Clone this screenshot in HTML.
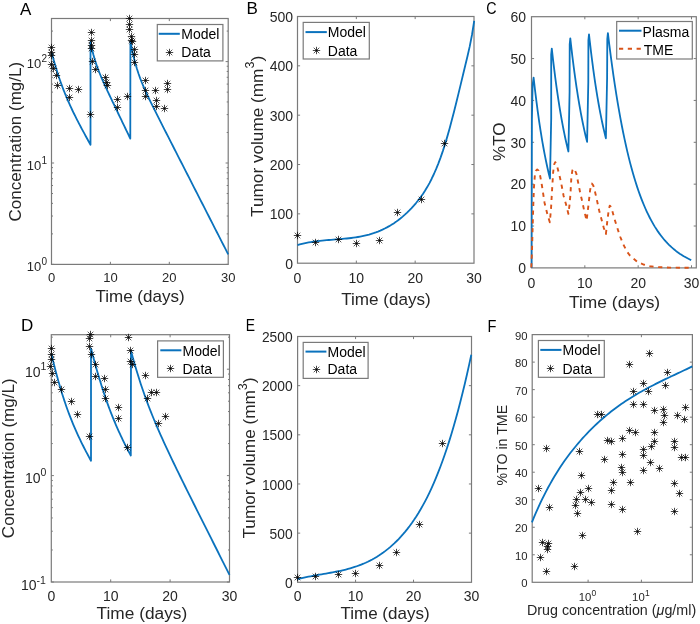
<!DOCTYPE html><html><head><meta charset="utf-8"><style>html,body{margin:0;padding:0;background:#fff;}svg{display:block;will-change:transform;}</style></head><body>
<svg width="700" height="624" viewBox="0 0 700 624" font-family='"Liberation Sans", sans-serif'>
<rect width="700" height="624" fill="#fff"/>
<rect x="51.5" y="18.5" width="176.7" height="245.9" fill="none" stroke="#7a7a7a" stroke-width="1.2"/>
<path d="M110.4 264.4v-2.6M110.4 18.5v2.6" stroke="#7a7a7a" stroke-width="1"/>
<path d="M169.3 264.4v-2.6M169.3 18.5v2.6" stroke="#7a7a7a" stroke-width="1"/>
<path d="M51.5 264.4h2.6M228.2 264.4h-2.6" stroke="#7a7a7a" stroke-width="1"/>
<path d="M51.5 233.88h1.5M228.2 233.88h-1.5" stroke="#7a7a7a" stroke-width="1"/>
<path d="M51.5 216.02h1.5M228.2 216.02h-1.5" stroke="#7a7a7a" stroke-width="1"/>
<path d="M51.5 203.35h1.5M228.2 203.35h-1.5" stroke="#7a7a7a" stroke-width="1"/>
<path d="M51.5 193.52h1.5M228.2 193.52h-1.5" stroke="#7a7a7a" stroke-width="1"/>
<path d="M51.5 185.5h1.5M228.2 185.5h-1.5" stroke="#7a7a7a" stroke-width="1"/>
<path d="M51.5 178.71h1.5M228.2 178.71h-1.5" stroke="#7a7a7a" stroke-width="1"/>
<path d="M51.5 172.83h1.5M228.2 172.83h-1.5" stroke="#7a7a7a" stroke-width="1"/>
<path d="M51.5 167.64h1.5M228.2 167.64h-1.5" stroke="#7a7a7a" stroke-width="1"/>
<path d="M51.5 163h2.6M228.2 163h-2.6" stroke="#7a7a7a" stroke-width="1"/>
<path d="M51.5 132.48h1.5M228.2 132.48h-1.5" stroke="#7a7a7a" stroke-width="1"/>
<path d="M51.5 114.62h1.5M228.2 114.62h-1.5" stroke="#7a7a7a" stroke-width="1"/>
<path d="M51.5 101.95h1.5M228.2 101.95h-1.5" stroke="#7a7a7a" stroke-width="1"/>
<path d="M51.5 92.12h1.5M228.2 92.12h-1.5" stroke="#7a7a7a" stroke-width="1"/>
<path d="M51.5 84.1h1.5M228.2 84.1h-1.5" stroke="#7a7a7a" stroke-width="1"/>
<path d="M51.5 77.31h1.5M228.2 77.31h-1.5" stroke="#7a7a7a" stroke-width="1"/>
<path d="M51.5 71.43h1.5M228.2 71.43h-1.5" stroke="#7a7a7a" stroke-width="1"/>
<path d="M51.5 66.24h1.5M228.2 66.24h-1.5" stroke="#7a7a7a" stroke-width="1"/>
<path d="M51.5 61.6h2.6M228.2 61.6h-2.6" stroke="#7a7a7a" stroke-width="1"/>
<path d="M51.5 31.08h1.5M228.2 31.08h-1.5" stroke="#7a7a7a" stroke-width="1"/>
<text x="51.5" y="282" font-size="13" text-anchor="middle" fill="#262626" >0</text>
<text x="110.4" y="282" font-size="13" text-anchor="middle" fill="#262626" >10</text>
<text x="169.3" y="282" font-size="13" text-anchor="middle" fill="#262626" >20</text>
<text x="228.2" y="282" font-size="13" text-anchor="middle" fill="#262626" >30</text>
<text x="41.2" y="271.2" font-size="13" text-anchor="end" fill="#262626" >10</text>
<text x="41.4" y="264.9" font-size="10" text-anchor="start" fill="#262626" >0</text>
<text x="41.2" y="169.8" font-size="13" text-anchor="end" fill="#262626" >10</text>
<text x="41.4" y="163.5" font-size="10" text-anchor="start" fill="#262626" >1</text>
<text x="41.2" y="68.4" font-size="13" text-anchor="end" fill="#262626" >10</text>
<text x="41.4" y="62.1" font-size="10" text-anchor="start" fill="#262626" >2</text>
<text x="140" y="301.7" font-size="17" text-anchor="middle" fill="#262626" >Time (days)</text>
<text x="20.9" y="141.7" font-size="17" text-anchor="middle" fill="#262626" transform="rotate(-90 20.9 141.7)">Concentration (mg/L)</text>
<text x="20" y="14.6" font-size="17" text-anchor="start" fill="#000" >A</text>
<path d="M51.8 53 L52.77 56.63 L53.73 60.14 L54.7 63.54 L55.67 66.83 L56.64 70 L57.6 73.08 L58.57 76.05 L59.54 78.92 L60.51 81.71 L61.47 84.41 L62.44 87.02 L63.41 89.56 L64.38 92.03 L65.34 94.44 L66.31 96.78 L67.28 99.06 L68.25 101.29 L69.22 103.47 L70.18 105.6 L71.15 107.7 L72.12 109.75 L73.09 111.77 L74.05 113.76 L75.02 115.72 L75.99 117.66 L76.95 119.56 L77.92 121.45 L78.89 123.32 L79.86 125.17 L80.82 127 L81.79 128.82 L82.76 130.62 L83.73 132.41 L84.69 134.19 L85.66 135.96 L86.63 137.72 L87.6 139.48 L88.56 141.22 L89.53 142.96 L90.5 144.7 L90.5 42 L91.5 46.78 L92.49 51.09 L93.48 54.98 L94.48 58.52 L95.47 61.77 L96.47 64.78 L97.47 67.6 L98.46 70.26 L99.45 72.79 L100.45 75.23 L101.45 77.58 L102.44 79.87 L103.44 82.12 L104.43 84.32 L105.43 86.5 L106.42 88.65 L107.42 90.79 L108.41 92.91 L109.41 95.01 L110.4 97.11 L111.4 99.2 L112.39 101.29 L113.39 103.37 L114.38 105.45 L115.38 107.53 L116.37 109.61 L117.37 111.68 L118.36 113.75 L119.36 115.82 L120.35 117.89 L121.35 119.96 L122.34 122.03 L123.34 124.1 L124.33 126.17 L125.33 128.24 L126.32 130.31 L127.32 132.38 L128.31 134.45 L129.31 136.51 L130.3 138.58 L130.4 41.5 L132.03 49.74 L133.66 56.94 L135.29 63.26 L136.92 68.83 L138.55 73.82 L140.18 78.35 L141.81 82.52 L143.44 86.43 L145.07 90.15 L146.7 93.72 L148.33 97.19 L149.96 100.58 L151.59 103.91 L153.22 107.21 L154.85 110.47 L156.48 113.72 L158.11 116.95 L159.74 120.17 L161.37 123.38 L163 126.59 L164.63 129.79 L166.26 132.99 L167.89 136.19 L169.52 139.39 L171.15 142.58 L172.78 145.78 L174.41 148.97 L176.04 152.17 L177.67 155.36 L179.3 158.55 L180.93 161.75 L182.56 164.94 L184.19 168.13 L185.82 171.33 L187.45 174.52 L189.08 177.71 L190.71 180.91 L192.34 184.1 L193.97 187.29 L195.6 190.48 L197.23 193.68 L198.86 196.87 L200.49 200.06 L202.12 203.26 L203.75 206.45 L205.38 209.64 L207.01 212.84 L208.64 216.03 L210.27 219.22 L211.9 222.41 L213.53 225.61 L215.16 228.8 L216.79 231.99 L218.42 235.19 L220.05 238.38 L221.68 241.57 L223.31 244.76 L224.94 247.96 L226.57 251.15 L228.2 254.34" fill="none" stroke="#0a72bd" stroke-width="1.8" stroke-linejoin="round" />
<path d="M47.8 47.5h7.4M51.5 43.8v7.4" stroke="#000" stroke-opacity="0.72" stroke-width="1.0"/>
<path d="M48.7 44.7l5.6 5.6M48.7 50.3l5.6 -5.6" stroke="#000" stroke-opacity="0.66" stroke-width="1.0"/>
<circle cx="51.5" cy="47.5" r="1.1" fill="#000" fill-opacity="0.55"/>
<path d="M47.8 52.5h7.4M51.5 48.8v7.4" stroke="#000" stroke-opacity="0.72" stroke-width="1.0"/>
<path d="M48.7 49.7l5.6 5.6M48.7 55.3l5.6 -5.6" stroke="#000" stroke-opacity="0.66" stroke-width="1.0"/>
<circle cx="51.5" cy="52.5" r="1.1" fill="#000" fill-opacity="0.55"/>
<path d="M47.8 55.5h7.4M51.5 51.8v7.4" stroke="#000" stroke-opacity="0.72" stroke-width="1.0"/>
<path d="M48.7 52.7l5.6 5.6M48.7 58.3l5.6 -5.6" stroke="#000" stroke-opacity="0.66" stroke-width="1.0"/>
<circle cx="51.5" cy="55.5" r="1.1" fill="#000" fill-opacity="0.55"/>
<path d="M47.8 64.5h7.4M51.5 60.8v7.4" stroke="#000" stroke-opacity="0.72" stroke-width="1.0"/>
<path d="M48.7 61.7l5.6 5.6M48.7 67.3l5.6 -5.6" stroke="#000" stroke-opacity="0.66" stroke-width="1.0"/>
<circle cx="51.5" cy="64.5" r="1.1" fill="#000" fill-opacity="0.55"/>
<path d="M49.8 68.5h7.4M53.5 64.8v7.4" stroke="#000" stroke-opacity="0.72" stroke-width="1.0"/>
<path d="M50.7 65.7l5.6 5.6M50.7 71.3l5.6 -5.6" stroke="#000" stroke-opacity="0.66" stroke-width="1.0"/>
<circle cx="53.5" cy="68.5" r="1.1" fill="#000" fill-opacity="0.55"/>
<path d="M52.8 75.5h7.4M56.5 71.8v7.4" stroke="#000" stroke-opacity="0.72" stroke-width="1.0"/>
<path d="M53.7 72.7l5.6 5.6M53.7 78.3l5.6 -5.6" stroke="#000" stroke-opacity="0.66" stroke-width="1.0"/>
<circle cx="56.5" cy="75.5" r="1.1" fill="#000" fill-opacity="0.55"/>
<path d="M53.8 85.5h7.4M57.5 81.8v7.4" stroke="#000" stroke-opacity="0.72" stroke-width="1.0"/>
<path d="M54.7 82.7l5.6 5.6M54.7 88.3l5.6 -5.6" stroke="#000" stroke-opacity="0.66" stroke-width="1.0"/>
<circle cx="57.5" cy="85.5" r="1.1" fill="#000" fill-opacity="0.55"/>
<path d="M65.8 88.5h7.4M69.5 84.8v7.4" stroke="#000" stroke-opacity="0.72" stroke-width="1.0"/>
<path d="M66.7 85.7l5.6 5.6M66.7 91.3l5.6 -5.6" stroke="#000" stroke-opacity="0.66" stroke-width="1.0"/>
<circle cx="69.5" cy="88.5" r="1.1" fill="#000" fill-opacity="0.55"/>
<path d="M74.8 89.5h7.4M78.5 85.8v7.4" stroke="#000" stroke-opacity="0.72" stroke-width="1.0"/>
<path d="M75.7 86.7l5.6 5.6M75.7 92.3l5.6 -5.6" stroke="#000" stroke-opacity="0.66" stroke-width="1.0"/>
<circle cx="78.5" cy="89.5" r="1.1" fill="#000" fill-opacity="0.55"/>
<path d="M65.8 97.5h7.4M69.5 93.8v7.4" stroke="#000" stroke-opacity="0.72" stroke-width="1.0"/>
<path d="M66.7 94.7l5.6 5.6M66.7 100.3l5.6 -5.6" stroke="#000" stroke-opacity="0.66" stroke-width="1.0"/>
<circle cx="69.5" cy="97.5" r="1.1" fill="#000" fill-opacity="0.55"/>
<path d="M87.8 32.5h7.4M91.5 28.8v7.4" stroke="#000" stroke-opacity="0.72" stroke-width="1.0"/>
<path d="M88.7 29.7l5.6 5.6M88.7 35.3l5.6 -5.6" stroke="#000" stroke-opacity="0.66" stroke-width="1.0"/>
<circle cx="91.5" cy="32.5" r="1.1" fill="#000" fill-opacity="0.55"/>
<path d="M87.8 40.5h7.4M91.5 36.8v7.4" stroke="#000" stroke-opacity="0.72" stroke-width="1.0"/>
<path d="M88.7 37.7l5.6 5.6M88.7 43.3l5.6 -5.6" stroke="#000" stroke-opacity="0.66" stroke-width="1.0"/>
<circle cx="91.5" cy="40.5" r="1.1" fill="#000" fill-opacity="0.55"/>
<path d="M87.8 45.5h7.4M91.5 41.8v7.4" stroke="#000" stroke-opacity="0.72" stroke-width="1.0"/>
<path d="M88.7 42.7l5.6 5.6M88.7 48.3l5.6 -5.6" stroke="#000" stroke-opacity="0.66" stroke-width="1.0"/>
<circle cx="91.5" cy="45.5" r="1.1" fill="#000" fill-opacity="0.55"/>
<path d="M87.8 48.5h7.4M91.5 44.8v7.4" stroke="#000" stroke-opacity="0.72" stroke-width="1.0"/>
<path d="M88.7 45.7l5.6 5.6M88.7 51.3l5.6 -5.6" stroke="#000" stroke-opacity="0.66" stroke-width="1.0"/>
<circle cx="91.5" cy="48.5" r="1.1" fill="#000" fill-opacity="0.55"/>
<path d="M88.8 61.5h7.4M92.5 57.8v7.4" stroke="#000" stroke-opacity="0.72" stroke-width="1.0"/>
<path d="M89.7 58.7l5.6 5.6M89.7 64.3l5.6 -5.6" stroke="#000" stroke-opacity="0.66" stroke-width="1.0"/>
<circle cx="92.5" cy="61.5" r="1.1" fill="#000" fill-opacity="0.55"/>
<path d="M91.8 69.5h7.4M95.5 65.8v7.4" stroke="#000" stroke-opacity="0.72" stroke-width="1.0"/>
<path d="M92.7 66.7l5.6 5.6M92.7 72.3l5.6 -5.6" stroke="#000" stroke-opacity="0.66" stroke-width="1.0"/>
<circle cx="95.5" cy="69.5" r="1.1" fill="#000" fill-opacity="0.55"/>
<path d="M101.8 77.5h7.4M105.5 73.8v7.4" stroke="#000" stroke-opacity="0.72" stroke-width="1.0"/>
<path d="M102.7 74.7l5.6 5.6M102.7 80.3l5.6 -5.6" stroke="#000" stroke-opacity="0.66" stroke-width="1.0"/>
<circle cx="105.5" cy="77.5" r="1.1" fill="#000" fill-opacity="0.55"/>
<path d="M102.8 82.5h7.4M106.5 78.8v7.4" stroke="#000" stroke-opacity="0.72" stroke-width="1.0"/>
<path d="M103.7 79.7l5.6 5.6M103.7 85.3l5.6 -5.6" stroke="#000" stroke-opacity="0.66" stroke-width="1.0"/>
<circle cx="106.5" cy="82.5" r="1.1" fill="#000" fill-opacity="0.55"/>
<path d="M103.8 85.5h7.4M107.5 81.8v7.4" stroke="#000" stroke-opacity="0.72" stroke-width="1.0"/>
<path d="M104.7 82.7l5.6 5.6M104.7 88.3l5.6 -5.6" stroke="#000" stroke-opacity="0.66" stroke-width="1.0"/>
<circle cx="107.5" cy="85.5" r="1.1" fill="#000" fill-opacity="0.55"/>
<path d="M86.8 114.5h7.4M90.5 110.8v7.4" stroke="#000" stroke-opacity="0.72" stroke-width="1.0"/>
<path d="M87.7 111.7l5.6 5.6M87.7 117.3l5.6 -5.6" stroke="#000" stroke-opacity="0.66" stroke-width="1.0"/>
<circle cx="90.5" cy="114.5" r="1.1" fill="#000" fill-opacity="0.55"/>
<path d="M113.8 99.5h7.4M117.5 95.8v7.4" stroke="#000" stroke-opacity="0.72" stroke-width="1.0"/>
<path d="M114.7 96.7l5.6 5.6M114.7 102.3l5.6 -5.6" stroke="#000" stroke-opacity="0.66" stroke-width="1.0"/>
<circle cx="117.5" cy="99.5" r="1.1" fill="#000" fill-opacity="0.55"/>
<path d="M113.8 107.5h7.4M117.5 103.8v7.4" stroke="#000" stroke-opacity="0.72" stroke-width="1.0"/>
<path d="M114.7 104.7l5.6 5.6M114.7 110.3l5.6 -5.6" stroke="#000" stroke-opacity="0.66" stroke-width="1.0"/>
<circle cx="117.5" cy="107.5" r="1.1" fill="#000" fill-opacity="0.55"/>
<path d="M123.8 96.5h7.4M127.5 92.8v7.4" stroke="#000" stroke-opacity="0.72" stroke-width="1.0"/>
<path d="M124.7 93.7l5.6 5.6M124.7 99.3l5.6 -5.6" stroke="#000" stroke-opacity="0.66" stroke-width="1.0"/>
<circle cx="127.5" cy="96.5" r="1.1" fill="#000" fill-opacity="0.55"/>
<path d="M125.8 18.5h7.4M129.5 14.8v7.4" stroke="#000" stroke-opacity="0.72" stroke-width="1.0"/>
<path d="M126.7 15.7l5.6 5.6M126.7 21.3l5.6 -5.6" stroke="#000" stroke-opacity="0.66" stroke-width="1.0"/>
<circle cx="129.5" cy="18.5" r="1.1" fill="#000" fill-opacity="0.55"/>
<path d="M125.8 24.5h7.4M129.5 20.8v7.4" stroke="#000" stroke-opacity="0.72" stroke-width="1.0"/>
<path d="M126.7 21.7l5.6 5.6M126.7 27.3l5.6 -5.6" stroke="#000" stroke-opacity="0.66" stroke-width="1.0"/>
<circle cx="129.5" cy="24.5" r="1.1" fill="#000" fill-opacity="0.55"/>
<path d="M125.8 29.5h7.4M129.5 25.8v7.4" stroke="#000" stroke-opacity="0.72" stroke-width="1.0"/>
<path d="M126.7 26.7l5.6 5.6M126.7 32.3l5.6 -5.6" stroke="#000" stroke-opacity="0.66" stroke-width="1.0"/>
<circle cx="129.5" cy="29.5" r="1.1" fill="#000" fill-opacity="0.55"/>
<path d="M127.8 36.5h7.4M131.5 32.8v7.4" stroke="#000" stroke-opacity="0.72" stroke-width="1.0"/>
<path d="M128.7 33.7l5.6 5.6M128.7 39.3l5.6 -5.6" stroke="#000" stroke-opacity="0.66" stroke-width="1.0"/>
<circle cx="131.5" cy="36.5" r="1.1" fill="#000" fill-opacity="0.55"/>
<path d="M127.8 40.5h7.4M131.5 36.8v7.4" stroke="#000" stroke-opacity="0.72" stroke-width="1.0"/>
<path d="M128.7 37.7l5.6 5.6M128.7 43.3l5.6 -5.6" stroke="#000" stroke-opacity="0.66" stroke-width="1.0"/>
<circle cx="131.5" cy="40.5" r="1.1" fill="#000" fill-opacity="0.55"/>
<path d="M128.8 41.5h7.4M132.5 37.8v7.4" stroke="#000" stroke-opacity="0.72" stroke-width="1.0"/>
<path d="M129.7 38.7l5.6 5.6M129.7 44.3l5.6 -5.6" stroke="#000" stroke-opacity="0.66" stroke-width="1.0"/>
<circle cx="132.5" cy="41.5" r="1.1" fill="#000" fill-opacity="0.55"/>
<path d="M130.8 49.5h7.4M134.5 45.8v7.4" stroke="#000" stroke-opacity="0.72" stroke-width="1.0"/>
<path d="M131.7 46.7l5.6 5.6M131.7 52.3l5.6 -5.6" stroke="#000" stroke-opacity="0.66" stroke-width="1.0"/>
<circle cx="134.5" cy="49.5" r="1.1" fill="#000" fill-opacity="0.55"/>
<path d="M130.8 54.5h7.4M134.5 50.8v7.4" stroke="#000" stroke-opacity="0.72" stroke-width="1.0"/>
<path d="M131.7 51.7l5.6 5.6M131.7 57.3l5.6 -5.6" stroke="#000" stroke-opacity="0.66" stroke-width="1.0"/>
<circle cx="134.5" cy="54.5" r="1.1" fill="#000" fill-opacity="0.55"/>
<path d="M130.8 62.5h7.4M134.5 58.8v7.4" stroke="#000" stroke-opacity="0.72" stroke-width="1.0"/>
<path d="M131.7 59.7l5.6 5.6M131.7 65.3l5.6 -5.6" stroke="#000" stroke-opacity="0.66" stroke-width="1.0"/>
<circle cx="134.5" cy="62.5" r="1.1" fill="#000" fill-opacity="0.55"/>
<path d="M141.8 80.5h7.4M145.5 76.8v7.4" stroke="#000" stroke-opacity="0.72" stroke-width="1.0"/>
<path d="M142.7 77.7l5.6 5.6M142.7 83.3l5.6 -5.6" stroke="#000" stroke-opacity="0.66" stroke-width="1.0"/>
<circle cx="145.5" cy="80.5" r="1.1" fill="#000" fill-opacity="0.55"/>
<path d="M141.8 90.5h7.4M145.5 86.8v7.4" stroke="#000" stroke-opacity="0.72" stroke-width="1.0"/>
<path d="M142.7 87.7l5.6 5.6M142.7 93.3l5.6 -5.6" stroke="#000" stroke-opacity="0.66" stroke-width="1.0"/>
<circle cx="145.5" cy="90.5" r="1.1" fill="#000" fill-opacity="0.55"/>
<path d="M141.8 96.5h7.4M145.5 92.8v7.4" stroke="#000" stroke-opacity="0.72" stroke-width="1.0"/>
<path d="M142.7 93.7l5.6 5.6M142.7 99.3l5.6 -5.6" stroke="#000" stroke-opacity="0.66" stroke-width="1.0"/>
<circle cx="145.5" cy="96.5" r="1.1" fill="#000" fill-opacity="0.55"/>
<path d="M151.8 90.5h7.4M155.5 86.8v7.4" stroke="#000" stroke-opacity="0.72" stroke-width="1.0"/>
<path d="M152.7 87.7l5.6 5.6M152.7 93.3l5.6 -5.6" stroke="#000" stroke-opacity="0.66" stroke-width="1.0"/>
<circle cx="155.5" cy="90.5" r="1.1" fill="#000" fill-opacity="0.55"/>
<path d="M163.8 83.5h7.4M167.5 79.8v7.4" stroke="#000" stroke-opacity="0.72" stroke-width="1.0"/>
<path d="M164.7 80.7l5.6 5.6M164.7 86.3l5.6 -5.6" stroke="#000" stroke-opacity="0.66" stroke-width="1.0"/>
<circle cx="167.5" cy="83.5" r="1.1" fill="#000" fill-opacity="0.55"/>
<path d="M163.8 89.5h7.4M167.5 85.8v7.4" stroke="#000" stroke-opacity="0.72" stroke-width="1.0"/>
<path d="M164.7 86.7l5.6 5.6M164.7 92.3l5.6 -5.6" stroke="#000" stroke-opacity="0.66" stroke-width="1.0"/>
<circle cx="167.5" cy="89.5" r="1.1" fill="#000" fill-opacity="0.55"/>
<path d="M152.8 100.5h7.4M156.5 96.8v7.4" stroke="#000" stroke-opacity="0.72" stroke-width="1.0"/>
<path d="M153.7 97.7l5.6 5.6M153.7 103.3l5.6 -5.6" stroke="#000" stroke-opacity="0.66" stroke-width="1.0"/>
<circle cx="156.5" cy="100.5" r="1.1" fill="#000" fill-opacity="0.55"/>
<path d="M152.8 106.5h7.4M156.5 102.8v7.4" stroke="#000" stroke-opacity="0.72" stroke-width="1.0"/>
<path d="M153.7 103.7l5.6 5.6M153.7 109.3l5.6 -5.6" stroke="#000" stroke-opacity="0.66" stroke-width="1.0"/>
<circle cx="156.5" cy="106.5" r="1.1" fill="#000" fill-opacity="0.55"/>
<path d="M160.8 108.5h7.4M164.5 104.8v7.4" stroke="#000" stroke-opacity="0.72" stroke-width="1.0"/>
<path d="M161.7 105.7l5.6 5.6M161.7 111.3l5.6 -5.6" stroke="#000" stroke-opacity="0.66" stroke-width="1.0"/>
<circle cx="164.5" cy="108.5" r="1.1" fill="#000" fill-opacity="0.55"/>
<rect x="157.3" y="24.5" width="65.6" height="36.4" fill="#fff" stroke="#7a7a7a" stroke-width="1.2"/>
<path d="M158.7 33.8H179.8" stroke="#0a72bd" stroke-width="2"/>
<text x="181.3" y="39.3" font-size="14" text-anchor="start" fill="#000" >Model</text>
<path d="M165.8 52.5h7.4M169.5 48.8v7.4" stroke="#000" stroke-opacity="0.72" stroke-width="1.0"/>
<path d="M166.7 49.7l5.6 5.6M166.7 55.3l5.6 -5.6" stroke="#000" stroke-opacity="0.66" stroke-width="1.0"/>
<circle cx="169.5" cy="52.5" r="1.1" fill="#000" fill-opacity="0.55"/>
<text x="181.3" y="56.9" font-size="14" text-anchor="start" fill="#000" >Data</text>
<rect x="297.5" y="16.5" width="176.5" height="246.7" fill="none" stroke="#7a7a7a" stroke-width="1.2"/>
<path d="M356.33 263.2v-2.6M356.33 16.5v2.6" stroke="#7a7a7a" stroke-width="1"/>
<path d="M415.17 263.2v-2.6M415.17 16.5v2.6" stroke="#7a7a7a" stroke-width="1"/>
<path d="M297.5 213.86h2.6M474 213.86h-2.6" stroke="#7a7a7a" stroke-width="1"/>
<path d="M297.5 164.52h2.6M474 164.52h-2.6" stroke="#7a7a7a" stroke-width="1"/>
<path d="M297.5 115.18h2.6M474 115.18h-2.6" stroke="#7a7a7a" stroke-width="1"/>
<path d="M297.5 65.84h2.6M474 65.84h-2.6" stroke="#7a7a7a" stroke-width="1"/>
<text x="297.5" y="282.5" font-size="14" text-anchor="middle" fill="#262626" >0</text>
<text x="356.33" y="282.5" font-size="14" text-anchor="middle" fill="#262626" >10</text>
<text x="415.17" y="282.5" font-size="14" text-anchor="middle" fill="#262626" >20</text>
<text x="474" y="282.5" font-size="14" text-anchor="middle" fill="#262626" >30</text>
<text x="293.1" y="268.7" font-size="14" text-anchor="end" fill="#262626" >0</text>
<text x="293.1" y="219.36" font-size="14" text-anchor="end" fill="#262626" >100</text>
<text x="293.1" y="170.02" font-size="14" text-anchor="end" fill="#262626" >200</text>
<text x="293.1" y="120.68" font-size="14" text-anchor="end" fill="#262626" >300</text>
<text x="293.1" y="71.34" font-size="14" text-anchor="end" fill="#262626" >400</text>
<text x="293.1" y="22" font-size="14" text-anchor="end" fill="#262626" >500</text>
<text x="386" y="304.9" font-size="17.1" text-anchor="middle" fill="#262626" >Time (days)</text>
<text transform="translate(262.5 216.9) rotate(-90)" font-size="17.2" fill="#262626">Tumor volume (mm<tspan font-size="12.5" dy="-8.5">3</tspan><tspan dy="8.5">)</tspan></text>
<text x="246.5" y="14.3" font-size="17" text-anchor="start" fill="#000" >B</text>
<path d="M297.5 245.1 L299.74 244.46 L301.97 243.88 L304.21 243.35 L306.45 242.87 L308.68 242.44 L310.92 242.05 L313.16 241.7 L315.39 241.38 L317.63 241.09 L319.87 240.84 L322.1 240.6 L324.34 240.38 L326.58 240.18 L328.81 240 L331.05 239.82 L333.29 239.64 L335.52 239.47 L337.76 239.3 L340 239.12 L342.23 238.93 L344.47 238.72 L346.71 238.5 L348.94 238.26 L351.18 238 L353.42 237.7 L355.65 237.38 L357.89 237.01 L360.13 236.61 L362.36 236.17 L364.6 235.68 L366.84 235.14 L369.07 234.55 L371.31 233.89 L373.55 233.18 L375.78 232.4 L378.02 231.55 L380.26 230.63 L382.49 229.64 L384.73 228.56 L386.97 227.4 L389.21 226.16 L391.44 224.82 L393.68 223.39 L395.92 221.86 L398.15 220.22 L400.39 218.49 L402.63 216.64 L404.86 214.68 L407.1 212.6 L409.34 210.4 L411.57 208.08 L413.81 205.63 L416.05 203.05 L418.28 200.3 L420.52 197.35 L422.76 194.19 L424.99 190.77 L427.23 187.08 L429.47 183.07 L431.7 178.72 L433.94 174.01 L436.18 168.89 L438.41 163.35 L440.65 157.36 L442.89 150.87 L445.12 143.88 L447.36 136.37 L449.6 128.41 L451.83 120.07 L454.07 111.4 L456.31 102.47 L458.54 93.35 L460.78 84.1 L463.02 74.78 L465.25 65.46 L467.49 56.18 L469.73 46.4 L471.96 35.01 L474.2 20.86" fill="none" stroke="#0a72bd" stroke-width="1.8" stroke-linejoin="round" />
<path d="M293.8 235.5h7.4M297.5 231.8v7.4" stroke="#000" stroke-opacity="0.72" stroke-width="1.0"/>
<path d="M294.7 232.7l5.6 5.6M294.7 238.3l5.6 -5.6" stroke="#000" stroke-opacity="0.66" stroke-width="1.0"/>
<circle cx="297.5" cy="235.5" r="1.1" fill="#000" fill-opacity="0.55"/>
<path d="M311.8 242.5h7.4M315.5 238.8v7.4" stroke="#000" stroke-opacity="0.72" stroke-width="1.0"/>
<path d="M312.7 239.7l5.6 5.6M312.7 245.3l5.6 -5.6" stroke="#000" stroke-opacity="0.66" stroke-width="1.0"/>
<circle cx="315.5" cy="242.5" r="1.1" fill="#000" fill-opacity="0.55"/>
<path d="M334.8 239.5h7.4M338.5 235.8v7.4" stroke="#000" stroke-opacity="0.72" stroke-width="1.0"/>
<path d="M335.7 236.7l5.6 5.6M335.7 242.3l5.6 -5.6" stroke="#000" stroke-opacity="0.66" stroke-width="1.0"/>
<circle cx="338.5" cy="239.5" r="1.1" fill="#000" fill-opacity="0.55"/>
<path d="M352.8 243.5h7.4M356.5 239.8v7.4" stroke="#000" stroke-opacity="0.72" stroke-width="1.0"/>
<path d="M353.7 240.7l5.6 5.6M353.7 246.3l5.6 -5.6" stroke="#000" stroke-opacity="0.66" stroke-width="1.0"/>
<circle cx="356.5" cy="243.5" r="1.1" fill="#000" fill-opacity="0.55"/>
<path d="M375.8 240.5h7.4M379.5 236.8v7.4" stroke="#000" stroke-opacity="0.72" stroke-width="1.0"/>
<path d="M376.7 237.7l5.6 5.6M376.7 243.3l5.6 -5.6" stroke="#000" stroke-opacity="0.66" stroke-width="1.0"/>
<circle cx="379.5" cy="240.5" r="1.1" fill="#000" fill-opacity="0.55"/>
<path d="M393.8 212.5h7.4M397.5 208.8v7.4" stroke="#000" stroke-opacity="0.72" stroke-width="1.0"/>
<path d="M394.7 209.7l5.6 5.6M394.7 215.3l5.6 -5.6" stroke="#000" stroke-opacity="0.66" stroke-width="1.0"/>
<circle cx="397.5" cy="212.5" r="1.1" fill="#000" fill-opacity="0.55"/>
<path d="M417.8 199.5h7.4M421.5 195.8v7.4" stroke="#000" stroke-opacity="0.72" stroke-width="1.0"/>
<path d="M418.7 196.7l5.6 5.6M418.7 202.3l5.6 -5.6" stroke="#000" stroke-opacity="0.66" stroke-width="1.0"/>
<circle cx="421.5" cy="199.5" r="1.1" fill="#000" fill-opacity="0.55"/>
<path d="M440.8 143.5h7.4M444.5 139.8v7.4" stroke="#000" stroke-opacity="0.72" stroke-width="1.0"/>
<path d="M441.7 140.7l5.6 5.6M441.7 146.3l5.6 -5.6" stroke="#000" stroke-opacity="0.66" stroke-width="1.0"/>
<circle cx="444.5" cy="143.5" r="1.1" fill="#000" fill-opacity="0.55"/>
<rect x="303.2" y="22.4" width="66.1" height="36.6" fill="#fff" stroke="#7a7a7a" stroke-width="1.2"/>
<path d="M305.5 32.1H326.8" stroke="#0a72bd" stroke-width="2"/>
<text x="327.8" y="37.3" font-size="14" text-anchor="start" fill="#000" >Model</text>
<path d="M312.8 50.5h7.4M316.5 46.8v7.4" stroke="#000" stroke-opacity="0.72" stroke-width="1.0"/>
<path d="M313.7 47.7l5.6 5.6M313.7 53.3l5.6 -5.6" stroke="#000" stroke-opacity="0.66" stroke-width="1.0"/>
<circle cx="316.5" cy="50.5" r="1.1" fill="#000" fill-opacity="0.55"/>
<text x="327.8" y="55.6" font-size="14" text-anchor="start" fill="#000" >Data</text>
<rect x="531.5" y="16.7" width="164.8" height="251.2" fill="none" stroke="#7a7a7a" stroke-width="1.2"/>
<path d="M584.83 267.9v-2.6M584.83 16.7v2.6" stroke="#7a7a7a" stroke-width="1"/>
<path d="M638.17 267.9v-2.6M638.17 16.7v2.6" stroke="#7a7a7a" stroke-width="1"/>
<path d="M691.5 267.9v-2.6M691.5 16.7v2.6" stroke="#7a7a7a" stroke-width="1"/>
<path d="M531.5 226.03h2.6M696.3 226.03h-2.6" stroke="#7a7a7a" stroke-width="1"/>
<path d="M531.5 184.17h2.6M696.3 184.17h-2.6" stroke="#7a7a7a" stroke-width="1"/>
<path d="M531.5 142.3h2.6M696.3 142.3h-2.6" stroke="#7a7a7a" stroke-width="1"/>
<path d="M531.5 100.43h2.6M696.3 100.43h-2.6" stroke="#7a7a7a" stroke-width="1"/>
<path d="M531.5 58.57h2.6M696.3 58.57h-2.6" stroke="#7a7a7a" stroke-width="1"/>
<text x="531.5" y="287.6" font-size="14" text-anchor="middle" fill="#262626" >0</text>
<text x="584.83" y="287.6" font-size="14" text-anchor="middle" fill="#262626" >10</text>
<text x="638.17" y="287.6" font-size="14" text-anchor="middle" fill="#262626" >20</text>
<text x="691.5" y="287.6" font-size="14" text-anchor="middle" fill="#262626" >30</text>
<text x="526" y="273.1" font-size="14" text-anchor="end" fill="#262626" >0</text>
<text x="526" y="231.23" font-size="14" text-anchor="end" fill="#262626" >10</text>
<text x="526" y="189.37" font-size="14" text-anchor="end" fill="#262626" >20</text>
<text x="526" y="147.5" font-size="14" text-anchor="end" fill="#262626" >30</text>
<text x="526" y="105.63" font-size="14" text-anchor="end" fill="#262626" >40</text>
<text x="526" y="63.77" font-size="14" text-anchor="end" fill="#262626" >50</text>
<text x="526" y="21.9" font-size="14" text-anchor="end" fill="#262626" >60</text>
<text x="614.6" y="308.4" font-size="17.4" text-anchor="middle" fill="#262626" >Time (days)</text>
<text x="504.7" y="141.75" font-size="17" text-anchor="middle" fill="#262626" transform="rotate(-90 504.7 141.75)">%TO</text>
<text transform="translate(486.2 13.6) scale(0.84 1)" font-size="17" fill="#000">C</text>
<path d="M531.6 267.9 L531.9 120 L532.6 85 L533.6 77.6 L534.28 83.66 L534.97 89.52 L535.65 95.18 L536.33 100.66 L537.02 105.94 L537.7 111.06 L538.38 115.99 L539.07 120.77 L539.75 125.38 L540.43 129.84 L541.12 134.15 L541.8 138.31 L542.48 142.33 L543.17 146.22 L543.85 149.98 L544.53 153.61 L545.22 157.12 L545.9 160.51 L546.58 163.79 L547.27 166.96 L547.95 170.02 L548.63 172.98 L549.32 175.84 L550 178.6 L551.2 118.6 L551.2 54.6 L551.8 48.6 L552.49 54.8 L553.18 60.79 L553.88 66.58 L554.57 72.17 L555.26 77.57 L555.95 82.79 L556.64 87.83 L557.33 92.7 L558.02 97.4 L558.72 101.95 L559.41 106.34 L560.1 110.58 L560.79 114.67 L561.48 118.63 L562.17 122.45 L562.87 126.14 L563.56 129.71 L564.25 133.15 L564.94 136.48 L565.63 139.7 L566.32 142.8 L567.02 145.8 L567.71 148.7 L568.4 151.5 L569.6 91.5 L569.7 44.4 L570.3 38.4 L571 44.66 L571.7 50.71 L572.4 56.55 L573.1 62.19 L573.8 67.64 L574.5 72.9 L575.2 77.98 L575.9 82.88 L576.6 87.61 L577.3 92.18 L578 96.6 L578.7 100.86 L579.4 104.98 L580.1 108.95 L580.8 112.79 L581.5 116.49 L582.2 120.07 L582.9 123.53 L583.6 126.86 L584.3 130.08 L585 133.2 L585.7 136.2 L586.4 139.1 L587.1 141.9 L588.3 81.9 L588.4 40.3 L589 34.3 L589.7 40.61 L590.41 46.7 L591.11 52.57 L591.82 58.25 L592.52 63.73 L593.23 69.02 L593.93 74.12 L594.63 79.05 L595.34 83.81 L596.04 88.41 L596.75 92.84 L597.45 97.12 L598.15 101.26 L598.86 105.25 L599.56 109.1 L600.27 112.82 L600.97 116.41 L601.67 119.88 L602.38 123.23 L603.08 126.46 L603.79 129.58 L604.49 132.59 L605.2 135.49 L605.9 138.3 L607.1 78.3 L607.3 39.2 L607.9 33.2 L609.29 44.58 L610.68 55.42 L612.06 65.74 L613.45 75.58 L614.84 84.94 L616.23 93.87 L617.62 102.37 L619.01 110.47 L620.39 118.18 L621.78 125.53 L623.17 132.53 L624.56 139.19 L625.95 145.55 L627.34 151.6 L628.73 157.36 L630.11 162.85 L631.5 168.08 L632.89 173.06 L634.28 177.8 L635.67 182.32 L637.05 186.63 L638.44 190.73 L639.83 194.64 L641.22 198.36 L642.61 201.9 L644 205.28 L645.38 208.5 L646.77 211.56 L648.16 214.48 L649.55 217.26 L650.94 219.91 L652.33 222.43 L653.72 224.83 L655.1 227.12 L656.49 229.3 L657.88 231.38 L659.27 233.36 L660.66 235.24 L662.05 237.04 L663.43 238.75 L664.82 240.38 L666.21 241.93 L667.6 243.41 L668.99 244.82 L670.38 246.16 L671.76 247.44 L673.15 248.65 L674.54 249.81 L675.93 250.92 L677.32 251.97 L678.71 252.97 L680.09 253.93 L681.48 254.83 L682.87 255.7 L684.26 256.53 L685.65 257.31 L687.04 258.06 L688.42 258.77 L689.81 259.45 L691.2 260.1" fill="none" stroke="#0a72bd" stroke-width="1.8" stroke-linejoin="round" />
<path d="M531.3 267.5 L532 250 L532.6 228.8 L533.3 205 L533.9 188.2 L534.8 176 L535.8 170.8 L537.2 169.4 L538.6 170.6 L540 175 L542 186 L544.6 203 L547.2 213.5 L549.8 222.3 L551 209 L552 191 L553.2 171.8 L554.2 164.3 L555.2 162.2 L556.3 163.6 L557.6 168.2 L560 177.8 L561.8 186.3 L563.6 195.9 L566 204.3 L568.4 213.9 L569.6 204.3 L570.5 193.5 L571.4 176.6 L572.4 170.3 L573.6 168.5 L574.8 169.8 L576.5 174.2 L578.4 183.8 L580.1 192.3 L582.3 201.9 L584.1 210.3 L586.6 220.5 L588.6 203.8 L590 190.9 L591 185.2 L591.9 183.6 L593.2 185.3 L594.8 190.9 L596.8 199.5 L599.1 210.3 L601.6 219.7 L603.7 227.6 L605.9 234.1 L607.3 221.1 L608.8 209.6 L609.8 205.6 L610.8 206.6 L611.7 208.9 L614.5 219 L617.4 228.3 L620.3 237 L623.2 244.2 L626.8 251.4 L629.5 255 L632.6 257.9 L637 261.5 L643.3 264.5 L650 266.2 L656.3 267 L670 267.6 L691 267.8" fill="none" stroke="#d95319" stroke-width="1.9" stroke-linejoin="round" stroke-dasharray="4.2 4.6"/>
<rect x="616.7" y="21.5" width="75.6" height="37.5" fill="#fff" stroke="#7a7a7a" stroke-width="1.2"/>
<path d="M619 30.7H641.5" stroke="#0a72bd" stroke-width="2"/>
<text x="642.6" y="36.5" font-size="14" text-anchor="start" fill="#000" >Plasma</text>
<path d="M619 48.7H641.5" stroke="#d95319" stroke-width="2" stroke-dasharray="4.2 4.6"/>
<text x="643.7" y="54.9" font-size="14" text-anchor="start" fill="#000" >TME</text>
<rect x="51.3" y="334.7" width="178.2" height="247.3" fill="none" stroke="#7a7a7a" stroke-width="1.2"/>
<path d="M110.7 582v-2.6M110.7 334.7v2.6" stroke="#7a7a7a" stroke-width="1"/>
<path d="M170.1 582v-2.6M170.1 334.7v2.6" stroke="#7a7a7a" stroke-width="1"/>
<path d="M51.3 582h2.6M229.5 582h-2.6" stroke="#7a7a7a" stroke-width="1"/>
<path d="M51.3 549.97h1.5M229.5 549.97h-1.5" stroke="#7a7a7a" stroke-width="1"/>
<path d="M51.3 531.23h1.5M229.5 531.23h-1.5" stroke="#7a7a7a" stroke-width="1"/>
<path d="M51.3 517.94h1.5M229.5 517.94h-1.5" stroke="#7a7a7a" stroke-width="1"/>
<path d="M51.3 507.63h1.5M229.5 507.63h-1.5" stroke="#7a7a7a" stroke-width="1"/>
<path d="M51.3 499.2h1.5M229.5 499.2h-1.5" stroke="#7a7a7a" stroke-width="1"/>
<path d="M51.3 492.08h1.5M229.5 492.08h-1.5" stroke="#7a7a7a" stroke-width="1"/>
<path d="M51.3 485.91h1.5M229.5 485.91h-1.5" stroke="#7a7a7a" stroke-width="1"/>
<path d="M51.3 480.47h1.5M229.5 480.47h-1.5" stroke="#7a7a7a" stroke-width="1"/>
<path d="M51.3 475.6h2.6M229.5 475.6h-2.6" stroke="#7a7a7a" stroke-width="1"/>
<path d="M51.3 443.57h1.5M229.5 443.57h-1.5" stroke="#7a7a7a" stroke-width="1"/>
<path d="M51.3 424.83h1.5M229.5 424.83h-1.5" stroke="#7a7a7a" stroke-width="1"/>
<path d="M51.3 411.54h1.5M229.5 411.54h-1.5" stroke="#7a7a7a" stroke-width="1"/>
<path d="M51.3 401.23h1.5M229.5 401.23h-1.5" stroke="#7a7a7a" stroke-width="1"/>
<path d="M51.3 392.8h1.5M229.5 392.8h-1.5" stroke="#7a7a7a" stroke-width="1"/>
<path d="M51.3 385.68h1.5M229.5 385.68h-1.5" stroke="#7a7a7a" stroke-width="1"/>
<path d="M51.3 379.51h1.5M229.5 379.51h-1.5" stroke="#7a7a7a" stroke-width="1"/>
<path d="M51.3 374.07h1.5M229.5 374.07h-1.5" stroke="#7a7a7a" stroke-width="1"/>
<path d="M51.3 369.2h2.6M229.5 369.2h-2.6" stroke="#7a7a7a" stroke-width="1"/>
<path d="M51.3 337.17h1.5M229.5 337.17h-1.5" stroke="#7a7a7a" stroke-width="1"/>
<text x="51.3" y="601.1" font-size="14" text-anchor="middle" fill="#262626" >0</text>
<text x="110.7" y="601.1" font-size="14" text-anchor="middle" fill="#262626" >10</text>
<text x="170.1" y="601.1" font-size="14" text-anchor="middle" fill="#262626" >20</text>
<text x="229.5" y="601.1" font-size="14" text-anchor="middle" fill="#262626" >30</text>
<text x="40.6" y="376.7" font-size="14" text-anchor="end" fill="#262626" >10</text>
<text x="40.5" y="369.7" font-size="10.5" text-anchor="start" fill="#262626" >1</text>
<text x="40.6" y="483.1" font-size="14" text-anchor="end" fill="#262626" >10</text>
<text x="40.5" y="476.1" font-size="10.5" text-anchor="start" fill="#262626" >0</text>
<text x="36.6" y="590.4" font-size="14" text-anchor="end" fill="#262626" >10</text>
<text x="36.6" y="583.5" font-size="10.5" text-anchor="start" fill="#262626" >-1</text>
<text x="141.9" y="619.2" font-size="17.3" text-anchor="middle" fill="#262626" >Time (days)</text>
<text x="13.7" y="458.3" font-size="17" text-anchor="middle" fill="#262626" transform="rotate(-90 13.7 458.3)">Concentration (mg/L)</text>
<text x="21" y="331.2" font-size="17" text-anchor="start" fill="#000" >D</text>
<path d="M51.4 354 L52.39 358.11 L53.38 362.13 L54.37 366.07 L55.36 369.91 L56.35 373.65 L57.34 377.31 L58.33 380.87 L59.32 384.34 L60.31 387.72 L61.3 391.01 L62.29 394.21 L63.28 397.33 L64.27 400.36 L65.26 403.31 L66.25 406.18 L67.24 408.98 L68.23 411.7 L69.22 414.35 L70.21 416.93 L71.2 419.45 L72.19 421.9 L73.18 424.3 L74.17 426.65 L75.16 428.94 L76.15 431.18 L77.14 433.38 L78.13 435.54 L79.12 437.65 L80.11 439.73 L81.1 441.78 L82.09 443.79 L83.08 445.77 L84.07 447.72 L85.06 449.65 L86.05 451.55 L87.04 453.43 L88.03 455.29 L89.02 457.13 L90.01 458.95 L91 460.76 L91 348.4 L92 352.24 L92.99 356.01 L93.98 359.72 L94.98 363.37 L95.97 366.94 L96.97 370.45 L97.97 373.89 L98.96 377.27 L99.95 380.57 L100.95 383.81 L101.95 386.98 L102.94 390.08 L103.94 393.12 L104.93 396.09 L105.93 398.99 L106.92 401.83 L107.92 404.61 L108.91 407.33 L109.91 409.99 L110.9 412.59 L111.9 415.14 L112.89 417.63 L113.89 420.07 L114.88 422.46 L115.88 424.81 L116.87 427.1 L117.87 429.36 L118.86 431.57 L119.86 433.74 L120.85 435.88 L121.85 437.97 L122.84 440.04 L123.84 442.07 L124.83 444.07 L125.83 446.05 L126.82 447.99 L127.82 449.91 L128.81 451.81 L129.81 453.68 L130.8 455.54 L131 350.8 L132.64 356.87 L134.28 362.73 L135.93 368.38 L137.57 373.83 L139.21 379.09 L140.85 384.17 L142.49 389.08 L144.13 393.82 L145.78 398.42 L147.42 402.87 L149.06 407.2 L150.7 411.42 L152.34 415.52 L153.98 419.53 L155.62 423.46 L157.27 427.31 L158.91 431.08 L160.55 434.8 L162.19 438.46 L163.83 442.07 L165.47 445.64 L167.12 449.17 L168.76 452.67 L170.4 456.14 L172.04 459.58 L173.68 463 L175.32 466.4 L176.97 469.78 L178.61 473.14 L180.25 476.49 L181.89 479.83 L183.53 483.16 L185.18 486.48 L186.82 489.79 L188.46 493.1 L190.1 496.4 L191.74 499.69 L193.38 502.98 L195.03 506.26 L196.67 509.54 L198.31 512.82 L199.95 516.1 L201.59 519.37 L203.23 522.64 L204.88 525.91 L206.52 529.18 L208.16 532.44 L209.8 535.71 L211.44 538.97 L213.08 542.23 L214.72 545.49 L216.37 548.76 L218.01 552.02 L219.65 555.28 L221.29 558.54 L222.93 561.8 L224.57 565.05 L226.22 568.31 L227.86 571.57 L229.5 574.83" fill="none" stroke="#0a72bd" stroke-width="1.8" stroke-linejoin="round" />
<path d="M47.8 348.5h7.4M51.5 344.8v7.4" stroke="#000" stroke-opacity="0.72" stroke-width="1.0"/>
<path d="M48.7 345.7l5.6 5.6M48.7 351.3l5.6 -5.6" stroke="#000" stroke-opacity="0.66" stroke-width="1.0"/>
<circle cx="51.5" cy="348.5" r="1.1" fill="#000" fill-opacity="0.55"/>
<path d="M47.8 354.5h7.4M51.5 350.8v7.4" stroke="#000" stroke-opacity="0.72" stroke-width="1.0"/>
<path d="M48.7 351.7l5.6 5.6M48.7 357.3l5.6 -5.6" stroke="#000" stroke-opacity="0.66" stroke-width="1.0"/>
<circle cx="51.5" cy="354.5" r="1.1" fill="#000" fill-opacity="0.55"/>
<path d="M47.8 359.5h7.4M51.5 355.8v7.4" stroke="#000" stroke-opacity="0.72" stroke-width="1.0"/>
<path d="M48.7 356.7l5.6 5.6M48.7 362.3l5.6 -5.6" stroke="#000" stroke-opacity="0.66" stroke-width="1.0"/>
<circle cx="51.5" cy="359.5" r="1.1" fill="#000" fill-opacity="0.55"/>
<path d="M46.8 366.5h7.4M50.5 362.8v7.4" stroke="#000" stroke-opacity="0.72" stroke-width="1.0"/>
<path d="M47.7 363.7l5.6 5.6M47.7 369.3l5.6 -5.6" stroke="#000" stroke-opacity="0.66" stroke-width="1.0"/>
<circle cx="50.5" cy="366.5" r="1.1" fill="#000" fill-opacity="0.55"/>
<path d="M48.8 373.5h7.4M52.5 369.8v7.4" stroke="#000" stroke-opacity="0.72" stroke-width="1.0"/>
<path d="M49.7 370.7l5.6 5.6M49.7 376.3l5.6 -5.6" stroke="#000" stroke-opacity="0.66" stroke-width="1.0"/>
<circle cx="52.5" cy="373.5" r="1.1" fill="#000" fill-opacity="0.55"/>
<path d="M50.8 382.5h7.4M54.5 378.8v7.4" stroke="#000" stroke-opacity="0.72" stroke-width="1.0"/>
<path d="M51.7 379.7l5.6 5.6M51.7 385.3l5.6 -5.6" stroke="#000" stroke-opacity="0.66" stroke-width="1.0"/>
<circle cx="54.5" cy="382.5" r="1.1" fill="#000" fill-opacity="0.55"/>
<path d="M57.8 389.5h7.4M61.5 385.8v7.4" stroke="#000" stroke-opacity="0.72" stroke-width="1.0"/>
<path d="M58.7 386.7l5.6 5.6M58.7 392.3l5.6 -5.6" stroke="#000" stroke-opacity="0.66" stroke-width="1.0"/>
<circle cx="61.5" cy="389.5" r="1.1" fill="#000" fill-opacity="0.55"/>
<path d="M67.8 401.5h7.4M71.5 397.8v7.4" stroke="#000" stroke-opacity="0.72" stroke-width="1.0"/>
<path d="M68.7 398.7l5.6 5.6M68.7 404.3l5.6 -5.6" stroke="#000" stroke-opacity="0.66" stroke-width="1.0"/>
<circle cx="71.5" cy="401.5" r="1.1" fill="#000" fill-opacity="0.55"/>
<path d="M73.8 414.5h7.4M77.5 410.8v7.4" stroke="#000" stroke-opacity="0.72" stroke-width="1.0"/>
<path d="M74.7 411.7l5.6 5.6M74.7 417.3l5.6 -5.6" stroke="#000" stroke-opacity="0.66" stroke-width="1.0"/>
<circle cx="77.5" cy="414.5" r="1.1" fill="#000" fill-opacity="0.55"/>
<path d="M86.8 334.5h7.4M90.5 330.8v7.4" stroke="#000" stroke-opacity="0.72" stroke-width="1.0"/>
<path d="M87.7 331.7l5.6 5.6M87.7 337.3l5.6 -5.6" stroke="#000" stroke-opacity="0.66" stroke-width="1.0"/>
<circle cx="90.5" cy="334.5" r="1.1" fill="#000" fill-opacity="0.55"/>
<path d="M85.8 338.5h7.4M89.5 334.8v7.4" stroke="#000" stroke-opacity="0.72" stroke-width="1.0"/>
<path d="M86.7 335.7l5.6 5.6M86.7 341.3l5.6 -5.6" stroke="#000" stroke-opacity="0.66" stroke-width="1.0"/>
<circle cx="89.5" cy="338.5" r="1.1" fill="#000" fill-opacity="0.55"/>
<path d="M85.8 346.5h7.4M89.5 342.8v7.4" stroke="#000" stroke-opacity="0.72" stroke-width="1.0"/>
<path d="M86.7 343.7l5.6 5.6M86.7 349.3l5.6 -5.6" stroke="#000" stroke-opacity="0.66" stroke-width="1.0"/>
<circle cx="89.5" cy="346.5" r="1.1" fill="#000" fill-opacity="0.55"/>
<path d="M87.8 354.5h7.4M91.5 350.8v7.4" stroke="#000" stroke-opacity="0.72" stroke-width="1.0"/>
<path d="M88.7 351.7l5.6 5.6M88.7 357.3l5.6 -5.6" stroke="#000" stroke-opacity="0.66" stroke-width="1.0"/>
<circle cx="91.5" cy="354.5" r="1.1" fill="#000" fill-opacity="0.55"/>
<path d="M91.8 364.5h7.4M95.5 360.8v7.4" stroke="#000" stroke-opacity="0.72" stroke-width="1.0"/>
<path d="M92.7 361.7l5.6 5.6M92.7 367.3l5.6 -5.6" stroke="#000" stroke-opacity="0.66" stroke-width="1.0"/>
<circle cx="95.5" cy="364.5" r="1.1" fill="#000" fill-opacity="0.55"/>
<path d="M91.8 376.5h7.4M95.5 372.8v7.4" stroke="#000" stroke-opacity="0.72" stroke-width="1.0"/>
<path d="M92.7 373.7l5.6 5.6M92.7 379.3l5.6 -5.6" stroke="#000" stroke-opacity="0.66" stroke-width="1.0"/>
<circle cx="95.5" cy="376.5" r="1.1" fill="#000" fill-opacity="0.55"/>
<path d="M100.8 378.5h7.4M104.5 374.8v7.4" stroke="#000" stroke-opacity="0.72" stroke-width="1.0"/>
<path d="M101.7 375.7l5.6 5.6M101.7 381.3l5.6 -5.6" stroke="#000" stroke-opacity="0.66" stroke-width="1.0"/>
<circle cx="104.5" cy="378.5" r="1.1" fill="#000" fill-opacity="0.55"/>
<path d="M101.8 389.5h7.4M105.5 385.8v7.4" stroke="#000" stroke-opacity="0.72" stroke-width="1.0"/>
<path d="M102.7 386.7l5.6 5.6M102.7 392.3l5.6 -5.6" stroke="#000" stroke-opacity="0.66" stroke-width="1.0"/>
<circle cx="105.5" cy="389.5" r="1.1" fill="#000" fill-opacity="0.55"/>
<path d="M101.8 398.5h7.4M105.5 394.8v7.4" stroke="#000" stroke-opacity="0.72" stroke-width="1.0"/>
<path d="M102.7 395.7l5.6 5.6M102.7 401.3l5.6 -5.6" stroke="#000" stroke-opacity="0.66" stroke-width="1.0"/>
<circle cx="105.5" cy="398.5" r="1.1" fill="#000" fill-opacity="0.55"/>
<path d="M114.8 407.5h7.4M118.5 403.8v7.4" stroke="#000" stroke-opacity="0.72" stroke-width="1.0"/>
<path d="M115.7 404.7l5.6 5.6M115.7 410.3l5.6 -5.6" stroke="#000" stroke-opacity="0.66" stroke-width="1.0"/>
<circle cx="118.5" cy="407.5" r="1.1" fill="#000" fill-opacity="0.55"/>
<path d="M114.8 418.5h7.4M118.5 414.8v7.4" stroke="#000" stroke-opacity="0.72" stroke-width="1.0"/>
<path d="M115.7 415.7l5.6 5.6M115.7 421.3l5.6 -5.6" stroke="#000" stroke-opacity="0.66" stroke-width="1.0"/>
<circle cx="118.5" cy="418.5" r="1.1" fill="#000" fill-opacity="0.55"/>
<path d="M85.8 436.5h7.4M89.5 432.8v7.4" stroke="#000" stroke-opacity="0.72" stroke-width="1.0"/>
<path d="M86.7 433.7l5.6 5.6M86.7 439.3l5.6 -5.6" stroke="#000" stroke-opacity="0.66" stroke-width="1.0"/>
<circle cx="89.5" cy="436.5" r="1.1" fill="#000" fill-opacity="0.55"/>
<path d="M123.8 447.5h7.4M127.5 443.8v7.4" stroke="#000" stroke-opacity="0.72" stroke-width="1.0"/>
<path d="M124.7 444.7l5.6 5.6M124.7 450.3l5.6 -5.6" stroke="#000" stroke-opacity="0.66" stroke-width="1.0"/>
<circle cx="127.5" cy="447.5" r="1.1" fill="#000" fill-opacity="0.55"/>
<path d="M124.8 337.5h7.4M128.5 333.8v7.4" stroke="#000" stroke-opacity="0.72" stroke-width="1.0"/>
<path d="M125.7 334.7l5.6 5.6M125.7 340.3l5.6 -5.6" stroke="#000" stroke-opacity="0.66" stroke-width="1.0"/>
<circle cx="128.5" cy="337.5" r="1.1" fill="#000" fill-opacity="0.55"/>
<path d="M126.8 350.5h7.4M130.5 346.8v7.4" stroke="#000" stroke-opacity="0.72" stroke-width="1.0"/>
<path d="M127.7 347.7l5.6 5.6M127.7 353.3l5.6 -5.6" stroke="#000" stroke-opacity="0.66" stroke-width="1.0"/>
<circle cx="130.5" cy="350.5" r="1.1" fill="#000" fill-opacity="0.55"/>
<path d="M126.8 361.5h7.4M130.5 357.8v7.4" stroke="#000" stroke-opacity="0.72" stroke-width="1.0"/>
<path d="M127.7 358.7l5.6 5.6M127.7 364.3l5.6 -5.6" stroke="#000" stroke-opacity="0.66" stroke-width="1.0"/>
<circle cx="130.5" cy="361.5" r="1.1" fill="#000" fill-opacity="0.55"/>
<path d="M128.8 364.5h7.4M132.5 360.8v7.4" stroke="#000" stroke-opacity="0.72" stroke-width="1.0"/>
<path d="M129.7 361.7l5.6 5.6M129.7 367.3l5.6 -5.6" stroke="#000" stroke-opacity="0.66" stroke-width="1.0"/>
<circle cx="132.5" cy="364.5" r="1.1" fill="#000" fill-opacity="0.55"/>
<path d="M141.8 375.5h7.4M145.5 371.8v7.4" stroke="#000" stroke-opacity="0.72" stroke-width="1.0"/>
<path d="M142.7 372.7l5.6 5.6M142.7 378.3l5.6 -5.6" stroke="#000" stroke-opacity="0.66" stroke-width="1.0"/>
<circle cx="145.5" cy="375.5" r="1.1" fill="#000" fill-opacity="0.55"/>
<path d="M147.8 392.5h7.4M151.5 388.8v7.4" stroke="#000" stroke-opacity="0.72" stroke-width="1.0"/>
<path d="M148.7 389.7l5.6 5.6M148.7 395.3l5.6 -5.6" stroke="#000" stroke-opacity="0.66" stroke-width="1.0"/>
<circle cx="151.5" cy="392.5" r="1.1" fill="#000" fill-opacity="0.55"/>
<path d="M152.8 392.5h7.4M156.5 388.8v7.4" stroke="#000" stroke-opacity="0.72" stroke-width="1.0"/>
<path d="M153.7 389.7l5.6 5.6M153.7 395.3l5.6 -5.6" stroke="#000" stroke-opacity="0.66" stroke-width="1.0"/>
<circle cx="156.5" cy="392.5" r="1.1" fill="#000" fill-opacity="0.55"/>
<path d="M143.8 398.5h7.4M147.5 394.8v7.4" stroke="#000" stroke-opacity="0.72" stroke-width="1.0"/>
<path d="M144.7 395.7l5.6 5.6M144.7 401.3l5.6 -5.6" stroke="#000" stroke-opacity="0.66" stroke-width="1.0"/>
<circle cx="147.5" cy="398.5" r="1.1" fill="#000" fill-opacity="0.55"/>
<path d="M161.8 416.5h7.4M165.5 412.8v7.4" stroke="#000" stroke-opacity="0.72" stroke-width="1.0"/>
<path d="M162.7 413.7l5.6 5.6M162.7 419.3l5.6 -5.6" stroke="#000" stroke-opacity="0.66" stroke-width="1.0"/>
<circle cx="165.5" cy="416.5" r="1.1" fill="#000" fill-opacity="0.55"/>
<path d="M154.8 423.5h7.4M158.5 419.8v7.4" stroke="#000" stroke-opacity="0.72" stroke-width="1.0"/>
<path d="M155.7 420.7l5.6 5.6M155.7 426.3l5.6 -5.6" stroke="#000" stroke-opacity="0.66" stroke-width="1.0"/>
<circle cx="158.5" cy="423.5" r="1.1" fill="#000" fill-opacity="0.55"/>
<rect x="157.6" y="340.9" width="65.8" height="36.4" fill="#fff" stroke="#7a7a7a" stroke-width="1.2"/>
<path d="M160.3 350.3H181.4" stroke="#0a72bd" stroke-width="2"/>
<text x="182.5" y="355.8" font-size="14" text-anchor="start" fill="#000" >Model</text>
<path d="M166.8 368.5h7.4M170.5 364.8v7.4" stroke="#000" stroke-opacity="0.72" stroke-width="1.0"/>
<path d="M167.7 365.7l5.6 5.6M167.7 371.3l5.6 -5.6" stroke="#000" stroke-opacity="0.66" stroke-width="1.0"/>
<circle cx="170.5" cy="368.5" r="1.1" fill="#000" fill-opacity="0.55"/>
<text x="182.5" y="374.4" font-size="14" text-anchor="start" fill="#000" >Data</text>
<rect x="297.6" y="336.5" width="173.9" height="245.8" fill="none" stroke="#7a7a7a" stroke-width="1.2"/>
<path d="M355.57 582.3v-2.6M355.57 336.5v2.6" stroke="#7a7a7a" stroke-width="1"/>
<path d="M413.53 582.3v-2.6M413.53 336.5v2.6" stroke="#7a7a7a" stroke-width="1"/>
<path d="M297.6 533.14h2.6M471.5 533.14h-2.6" stroke="#7a7a7a" stroke-width="1"/>
<path d="M297.6 483.98h2.6M471.5 483.98h-2.6" stroke="#7a7a7a" stroke-width="1"/>
<path d="M297.6 434.82h2.6M471.5 434.82h-2.6" stroke="#7a7a7a" stroke-width="1"/>
<path d="M297.6 385.66h2.6M471.5 385.66h-2.6" stroke="#7a7a7a" stroke-width="1"/>
<text x="297.6" y="601.2" font-size="14" text-anchor="middle" fill="#262626" >0</text>
<text x="355.57" y="601.2" font-size="14" text-anchor="middle" fill="#262626" >10</text>
<text x="413.53" y="601.2" font-size="14" text-anchor="middle" fill="#262626" >20</text>
<text x="471.5" y="601.2" font-size="14" text-anchor="middle" fill="#262626" >30</text>
<text x="292.6" y="587.9" font-size="13.8" text-anchor="end" fill="#262626" >0</text>
<text x="292.6" y="538.74" font-size="13.8" text-anchor="end" fill="#262626" >500</text>
<text x="292.6" y="489.58" font-size="13.8" text-anchor="end" fill="#262626" >1000</text>
<text x="292.6" y="440.42" font-size="13.8" text-anchor="end" fill="#262626" >1500</text>
<text x="292.6" y="391.26" font-size="13.8" text-anchor="end" fill="#262626" >2000</text>
<text x="292.6" y="342.1" font-size="13.8" text-anchor="end" fill="#262626" >2500</text>
<text x="385" y="618.5" font-size="17" text-anchor="middle" fill="#262626" >Time (days)</text>
<text transform="translate(255.4 538.5) rotate(-90)" font-size="17.2" fill="#262626">Tumor volume (mm<tspan font-size="12.5" dy="-8.5">3</tspan><tspan dy="8.5">)</tspan></text>
<text transform="translate(245.8 331) scale(0.82 1)" font-size="17" fill="#000">E</text>
<path d="M297.4 579.23 L299.6 578.66 L301.8 578.13 L304 577.63 L306.21 577.15 L308.41 576.7 L310.61 576.26 L312.81 575.85 L315.01 575.45 L317.21 575.05 L319.41 574.67 L321.61 574.29 L323.82 573.92 L326.02 573.54 L328.22 573.15 L330.42 572.76 L332.62 572.36 L334.82 571.94 L337.02 571.5 L339.22 571.04 L341.43 570.56 L343.63 570.05 L345.83 569.51 L348.03 568.94 L350.23 568.33 L352.43 567.68 L354.63 566.98 L356.83 566.24 L359.04 565.45 L361.24 564.6 L363.44 563.7 L365.64 562.74 L367.84 561.72 L370.04 560.63 L372.24 559.47 L374.44 558.24 L376.65 556.93 L378.85 555.55 L381.05 554.08 L383.25 552.53 L385.45 550.89 L387.65 549.16 L389.85 547.33 L392.05 545.4 L394.26 543.38 L396.46 541.25 L398.66 539.01 L400.86 536.66 L403.06 534.2 L405.26 531.61 L407.46 528.89 L409.66 526.03 L411.87 523.01 L414.07 519.84 L416.27 516.51 L418.47 513 L420.67 509.31 L422.87 505.42 L425.07 501.34 L427.27 497.05 L429.48 492.54 L431.68 487.81 L433.88 482.84 L436.08 477.64 L438.28 472.18 L440.48 466.47 L442.68 460.49 L444.88 454.23 L447.09 447.69 L449.29 440.86 L451.49 433.73 L453.69 426.3 L455.89 418.54 L458.09 410.46 L460.29 402.05 L462.49 393.3 L464.7 384.19 L466.9 374.73 L469.1 364.9 L471.3 354.7" fill="none" stroke="#0a72bd" stroke-width="1.8" stroke-linejoin="round" />
<path d="M293.8 577.5h7.4M297.5 573.8v7.4" stroke="#000" stroke-opacity="0.72" stroke-width="1.0"/>
<path d="M294.7 574.7l5.6 5.6M294.7 580.3l5.6 -5.6" stroke="#000" stroke-opacity="0.66" stroke-width="1.0"/>
<circle cx="297.5" cy="577.5" r="1.1" fill="#000" fill-opacity="0.55"/>
<path d="M311.8 576.5h7.4M315.5 572.8v7.4" stroke="#000" stroke-opacity="0.72" stroke-width="1.0"/>
<path d="M312.7 573.7l5.6 5.6M312.7 579.3l5.6 -5.6" stroke="#000" stroke-opacity="0.66" stroke-width="1.0"/>
<circle cx="315.5" cy="576.5" r="1.1" fill="#000" fill-opacity="0.55"/>
<path d="M334.8 574.5h7.4M338.5 570.8v7.4" stroke="#000" stroke-opacity="0.72" stroke-width="1.0"/>
<path d="M335.7 571.7l5.6 5.6M335.7 577.3l5.6 -5.6" stroke="#000" stroke-opacity="0.66" stroke-width="1.0"/>
<circle cx="338.5" cy="574.5" r="1.1" fill="#000" fill-opacity="0.55"/>
<path d="M351.8 573.5h7.4M355.5 569.8v7.4" stroke="#000" stroke-opacity="0.72" stroke-width="1.0"/>
<path d="M352.7 570.7l5.6 5.6M352.7 576.3l5.6 -5.6" stroke="#000" stroke-opacity="0.66" stroke-width="1.0"/>
<circle cx="355.5" cy="573.5" r="1.1" fill="#000" fill-opacity="0.55"/>
<path d="M375.8 565.5h7.4M379.5 561.8v7.4" stroke="#000" stroke-opacity="0.72" stroke-width="1.0"/>
<path d="M376.7 562.7l5.6 5.6M376.7 568.3l5.6 -5.6" stroke="#000" stroke-opacity="0.66" stroke-width="1.0"/>
<circle cx="379.5" cy="565.5" r="1.1" fill="#000" fill-opacity="0.55"/>
<path d="M392.8 552.5h7.4M396.5 548.8v7.4" stroke="#000" stroke-opacity="0.72" stroke-width="1.0"/>
<path d="M393.7 549.7l5.6 5.6M393.7 555.3l5.6 -5.6" stroke="#000" stroke-opacity="0.66" stroke-width="1.0"/>
<circle cx="396.5" cy="552.5" r="1.1" fill="#000" fill-opacity="0.55"/>
<path d="M415.8 524.5h7.4M419.5 520.8v7.4" stroke="#000" stroke-opacity="0.72" stroke-width="1.0"/>
<path d="M416.7 521.7l5.6 5.6M416.7 527.3l5.6 -5.6" stroke="#000" stroke-opacity="0.66" stroke-width="1.0"/>
<circle cx="419.5" cy="524.5" r="1.1" fill="#000" fill-opacity="0.55"/>
<path d="M438.8 443.5h7.4M442.5 439.8v7.4" stroke="#000" stroke-opacity="0.72" stroke-width="1.0"/>
<path d="M439.7 440.7l5.6 5.6M439.7 446.3l5.6 -5.6" stroke="#000" stroke-opacity="0.66" stroke-width="1.0"/>
<circle cx="442.5" cy="443.5" r="1.1" fill="#000" fill-opacity="0.55"/>
<rect x="303.2" y="342.4" width="64.9" height="36" fill="#fff" stroke="#7a7a7a" stroke-width="1.2"/>
<path d="M305.5 351.6H326.4" stroke="#0a72bd" stroke-width="2"/>
<text x="327.5" y="356.7" font-size="14" text-anchor="start" fill="#000" >Model</text>
<path d="M312.8 369.5h7.4M316.5 365.8v7.4" stroke="#000" stroke-opacity="0.72" stroke-width="1.0"/>
<path d="M313.7 366.7l5.6 5.6M313.7 372.3l5.6 -5.6" stroke="#000" stroke-opacity="0.66" stroke-width="1.0"/>
<circle cx="316.5" cy="369.5" r="1.1" fill="#000" fill-opacity="0.55"/>
<text x="327.5" y="374.4" font-size="14" text-anchor="start" fill="#000" >Data</text>
<rect x="532.2" y="334.6" width="160.2" height="247.7" fill="none" stroke="#7a7a7a" stroke-width="1.2"/>
<path d="M588.1 582.3v-2.6M588.1 334.6v2.6" stroke="#7a7a7a" stroke-width="1"/>
<path d="M641.4 582.3v-2.6M641.4 334.6v2.6" stroke="#7a7a7a" stroke-width="1"/>
<path d="M532.2 554.78h2.6M692.4 554.78h-2.6" stroke="#7a7a7a" stroke-width="1"/>
<path d="M532.2 527.26h2.6M692.4 527.26h-2.6" stroke="#7a7a7a" stroke-width="1"/>
<path d="M532.2 499.73h2.6M692.4 499.73h-2.6" stroke="#7a7a7a" stroke-width="1"/>
<path d="M532.2 472.21h2.6M692.4 472.21h-2.6" stroke="#7a7a7a" stroke-width="1"/>
<path d="M532.2 444.69h2.6M692.4 444.69h-2.6" stroke="#7a7a7a" stroke-width="1"/>
<path d="M532.2 417.17h2.6M692.4 417.17h-2.6" stroke="#7a7a7a" stroke-width="1"/>
<path d="M532.2 389.64h2.6M692.4 389.64h-2.6" stroke="#7a7a7a" stroke-width="1"/>
<path d="M532.2 362.12h2.6M692.4 362.12h-2.6" stroke="#7a7a7a" stroke-width="1"/>
<text x="527.6" y="587.2" font-size="11.3" text-anchor="end" fill="#262626" >0</text>
<text x="527.6" y="559.68" font-size="11.3" text-anchor="end" fill="#262626" >10</text>
<text x="527.6" y="532.16" font-size="11.3" text-anchor="end" fill="#262626" >20</text>
<text x="527.6" y="504.63" font-size="11.3" text-anchor="end" fill="#262626" >30</text>
<text x="527.6" y="477.11" font-size="11.3" text-anchor="end" fill="#262626" >40</text>
<text x="527.6" y="449.59" font-size="11.3" text-anchor="end" fill="#262626" >50</text>
<text x="527.6" y="422.07" font-size="11.3" text-anchor="end" fill="#262626" >60</text>
<text x="527.6" y="394.54" font-size="11.3" text-anchor="end" fill="#262626" >70</text>
<text x="527.6" y="367.02" font-size="11.3" text-anchor="end" fill="#262626" >80</text>
<text x="527.6" y="339.5" font-size="11.3" text-anchor="end" fill="#262626" >90</text>
<text x="591.4" y="601.2" font-size="11.3" text-anchor="end" fill="#262626" >10</text>
<text x="591.5" y="595.7" font-size="8.5" text-anchor="start" fill="#262626" >0</text>
<text x="644.7" y="601.2" font-size="11.3" text-anchor="end" fill="#262626" >10</text>
<text x="645" y="595.7" font-size="8.5" text-anchor="start" fill="#262626" >1</text>
<text x="527" y="614.5" font-size="14.3" fill="#262626">Drug concentration (<tspan font-style="italic">μ</tspan>g/ml)</text>
<text x="506.8" y="445.2" font-size="14.2" text-anchor="middle" fill="#262626" transform="rotate(-90 506.8 445.2)">%TO in TME</text>
<text transform="translate(487.6 331.8) scale(0.86 1)" font-size="17" fill="#000">F</text>
<path d="M531.9 522.28 L533.93 517.39 L535.96 512.67 L537.99 508.11 L540.02 503.7 L542.05 499.44 L544.08 495.33 L546.11 491.35 L548.14 487.52 L550.17 483.81 L552.2 480.23 L554.23 476.76 L556.26 473.42 L558.29 470.18 L560.33 467.05 L562.36 464.02 L564.39 461.09 L566.42 458.25 L568.45 455.49 L570.48 452.82 L572.51 450.22 L574.54 447.69 L576.57 445.24 L578.6 442.84 L580.63 440.5 L582.66 438.22 L584.69 435.99 L586.72 433.82 L588.75 431.7 L590.78 429.64 L592.81 427.62 L594.84 425.66 L596.87 423.74 L598.9 421.87 L600.93 420.04 L602.96 418.27 L604.99 416.53 L607.02 414.84 L609.05 413.19 L611.08 411.58 L613.12 410 L615.15 408.47 L617.18 406.97 L619.21 405.51 L621.24 404.08 L623.27 402.69 L625.3 401.33 L627.33 400 L629.36 398.69 L631.39 397.42 L633.42 396.17 L635.45 394.95 L637.48 393.76 L639.51 392.58 L641.54 391.43 L643.57 390.31 L645.6 389.2 L647.63 388.11 L649.66 387.03 L651.69 385.98 L653.72 384.93 L655.75 383.91 L657.78 382.89 L659.81 381.89 L661.84 380.89 L663.87 379.91 L665.91 378.93 L667.94 377.96 L669.97 377 L672 376.04 L674.03 375.08 L676.06 374.13 L678.09 373.17 L680.12 372.21 L682.15 371.26 L684.18 370.3 L686.21 369.33 L688.24 368.36 L690.27 367.39 L692.3 366.4" fill="none" stroke="#0a72bd" stroke-width="1.8" stroke-linejoin="round" />
<path d="M538.8 542.5h7.4M542.5 538.8v7.4" stroke="#000" stroke-opacity="0.72" stroke-width="1.0"/>
<path d="M539.7 539.7l5.6 5.6M539.7 545.3l5.6 -5.6" stroke="#000" stroke-opacity="0.66" stroke-width="1.0"/>
<circle cx="542.5" cy="542.5" r="1.1" fill="#000" fill-opacity="0.55"/>
<path d="M544.8 543.5h7.4M548.5 539.8v7.4" stroke="#000" stroke-opacity="0.72" stroke-width="1.0"/>
<path d="M545.7 540.7l5.6 5.6M545.7 546.3l5.6 -5.6" stroke="#000" stroke-opacity="0.66" stroke-width="1.0"/>
<circle cx="548.5" cy="543.5" r="1.1" fill="#000" fill-opacity="0.55"/>
<path d="M543.8 546.5h7.4M547.5 542.8v7.4" stroke="#000" stroke-opacity="0.72" stroke-width="1.0"/>
<path d="M544.7 543.7l5.6 5.6M544.7 549.3l5.6 -5.6" stroke="#000" stroke-opacity="0.66" stroke-width="1.0"/>
<circle cx="547.5" cy="546.5" r="1.1" fill="#000" fill-opacity="0.55"/>
<path d="M543.8 549.5h7.4M547.5 545.8v7.4" stroke="#000" stroke-opacity="0.72" stroke-width="1.0"/>
<path d="M544.7 546.7l5.6 5.6M544.7 552.3l5.6 -5.6" stroke="#000" stroke-opacity="0.66" stroke-width="1.0"/>
<circle cx="547.5" cy="549.5" r="1.1" fill="#000" fill-opacity="0.55"/>
<path d="M536.8 557.5h7.4M540.5 553.8v7.4" stroke="#000" stroke-opacity="0.72" stroke-width="1.0"/>
<path d="M537.7 554.7l5.6 5.6M537.7 560.3l5.6 -5.6" stroke="#000" stroke-opacity="0.66" stroke-width="1.0"/>
<circle cx="540.5" cy="557.5" r="1.1" fill="#000" fill-opacity="0.55"/>
<path d="M542.8 571.5h7.4M546.5 567.8v7.4" stroke="#000" stroke-opacity="0.72" stroke-width="1.0"/>
<path d="M543.7 568.7l5.6 5.6M543.7 574.3l5.6 -5.6" stroke="#000" stroke-opacity="0.66" stroke-width="1.0"/>
<circle cx="546.5" cy="571.5" r="1.1" fill="#000" fill-opacity="0.55"/>
<path d="M578.8 535.5h7.4M582.5 531.8v7.4" stroke="#000" stroke-opacity="0.72" stroke-width="1.0"/>
<path d="M579.7 532.7l5.6 5.6M579.7 538.3l5.6 -5.6" stroke="#000" stroke-opacity="0.66" stroke-width="1.0"/>
<circle cx="582.5" cy="535.5" r="1.1" fill="#000" fill-opacity="0.55"/>
<path d="M570.8 566.5h7.4M574.5 562.8v7.4" stroke="#000" stroke-opacity="0.72" stroke-width="1.0"/>
<path d="M571.7 563.7l5.6 5.6M571.7 569.3l5.6 -5.6" stroke="#000" stroke-opacity="0.66" stroke-width="1.0"/>
<circle cx="574.5" cy="566.5" r="1.1" fill="#000" fill-opacity="0.55"/>
<path d="M542.8 448.5h7.4M546.5 444.8v7.4" stroke="#000" stroke-opacity="0.72" stroke-width="1.0"/>
<path d="M543.7 445.7l5.6 5.6M543.7 451.3l5.6 -5.6" stroke="#000" stroke-opacity="0.66" stroke-width="1.0"/>
<circle cx="546.5" cy="448.5" r="1.1" fill="#000" fill-opacity="0.55"/>
<path d="M575.8 451.5h7.4M579.5 447.8v7.4" stroke="#000" stroke-opacity="0.72" stroke-width="1.0"/>
<path d="M576.7 448.7l5.6 5.6M576.7 454.3l5.6 -5.6" stroke="#000" stroke-opacity="0.66" stroke-width="1.0"/>
<circle cx="579.5" cy="451.5" r="1.1" fill="#000" fill-opacity="0.55"/>
<path d="M577.8 475.5h7.4M581.5 471.8v7.4" stroke="#000" stroke-opacity="0.72" stroke-width="1.0"/>
<path d="M578.7 472.7l5.6 5.6M578.7 478.3l5.6 -5.6" stroke="#000" stroke-opacity="0.66" stroke-width="1.0"/>
<circle cx="581.5" cy="475.5" r="1.1" fill="#000" fill-opacity="0.55"/>
<path d="M534.8 488.5h7.4M538.5 484.8v7.4" stroke="#000" stroke-opacity="0.72" stroke-width="1.0"/>
<path d="M535.7 485.7l5.6 5.6M535.7 491.3l5.6 -5.6" stroke="#000" stroke-opacity="0.66" stroke-width="1.0"/>
<circle cx="538.5" cy="488.5" r="1.1" fill="#000" fill-opacity="0.55"/>
<path d="M584.8 488.5h7.4M588.5 484.8v7.4" stroke="#000" stroke-opacity="0.72" stroke-width="1.0"/>
<path d="M585.7 485.7l5.6 5.6M585.7 491.3l5.6 -5.6" stroke="#000" stroke-opacity="0.66" stroke-width="1.0"/>
<circle cx="588.5" cy="488.5" r="1.1" fill="#000" fill-opacity="0.55"/>
<path d="M576.8 492.5h7.4M580.5 488.8v7.4" stroke="#000" stroke-opacity="0.72" stroke-width="1.0"/>
<path d="M577.7 489.7l5.6 5.6M577.7 495.3l5.6 -5.6" stroke="#000" stroke-opacity="0.66" stroke-width="1.0"/>
<circle cx="580.5" cy="492.5" r="1.1" fill="#000" fill-opacity="0.55"/>
<path d="M572.8 499.5h7.4M576.5 495.8v7.4" stroke="#000" stroke-opacity="0.72" stroke-width="1.0"/>
<path d="M573.7 496.7l5.6 5.6M573.7 502.3l5.6 -5.6" stroke="#000" stroke-opacity="0.66" stroke-width="1.0"/>
<circle cx="576.5" cy="499.5" r="1.1" fill="#000" fill-opacity="0.55"/>
<path d="M581.8 499.5h7.4M585.5 495.8v7.4" stroke="#000" stroke-opacity="0.72" stroke-width="1.0"/>
<path d="M582.7 496.7l5.6 5.6M582.7 502.3l5.6 -5.6" stroke="#000" stroke-opacity="0.66" stroke-width="1.0"/>
<circle cx="585.5" cy="499.5" r="1.1" fill="#000" fill-opacity="0.55"/>
<path d="M587.8 502.5h7.4M591.5 498.8v7.4" stroke="#000" stroke-opacity="0.72" stroke-width="1.0"/>
<path d="M588.7 499.7l5.6 5.6M588.7 505.3l5.6 -5.6" stroke="#000" stroke-opacity="0.66" stroke-width="1.0"/>
<circle cx="591.5" cy="502.5" r="1.1" fill="#000" fill-opacity="0.55"/>
<path d="M545.8 507.5h7.4M549.5 503.8v7.4" stroke="#000" stroke-opacity="0.72" stroke-width="1.0"/>
<path d="M546.7 504.7l5.6 5.6M546.7 510.3l5.6 -5.6" stroke="#000" stroke-opacity="0.66" stroke-width="1.0"/>
<circle cx="549.5" cy="507.5" r="1.1" fill="#000" fill-opacity="0.55"/>
<path d="M571.8 505.5h7.4M575.5 501.8v7.4" stroke="#000" stroke-opacity="0.72" stroke-width="1.0"/>
<path d="M572.7 502.7l5.6 5.6M572.7 508.3l5.6 -5.6" stroke="#000" stroke-opacity="0.66" stroke-width="1.0"/>
<circle cx="575.5" cy="505.5" r="1.1" fill="#000" fill-opacity="0.55"/>
<path d="M573.8 513.5h7.4M577.5 509.8v7.4" stroke="#000" stroke-opacity="0.72" stroke-width="1.0"/>
<path d="M574.7 510.7l5.6 5.6M574.7 516.3l5.6 -5.6" stroke="#000" stroke-opacity="0.66" stroke-width="1.0"/>
<circle cx="577.5" cy="513.5" r="1.1" fill="#000" fill-opacity="0.55"/>
<path d="M645.8 353.5h7.4M649.5 349.8v7.4" stroke="#000" stroke-opacity="0.72" stroke-width="1.0"/>
<path d="M646.7 350.7l5.6 5.6M646.7 356.3l5.6 -5.6" stroke="#000" stroke-opacity="0.66" stroke-width="1.0"/>
<circle cx="649.5" cy="353.5" r="1.1" fill="#000" fill-opacity="0.55"/>
<path d="M625.8 364.5h7.4M629.5 360.8v7.4" stroke="#000" stroke-opacity="0.72" stroke-width="1.0"/>
<path d="M626.7 361.7l5.6 5.6M626.7 367.3l5.6 -5.6" stroke="#000" stroke-opacity="0.66" stroke-width="1.0"/>
<circle cx="629.5" cy="364.5" r="1.1" fill="#000" fill-opacity="0.55"/>
<path d="M663.8 372.5h7.4M667.5 368.8v7.4" stroke="#000" stroke-opacity="0.72" stroke-width="1.0"/>
<path d="M664.7 369.7l5.6 5.6M664.7 375.3l5.6 -5.6" stroke="#000" stroke-opacity="0.66" stroke-width="1.0"/>
<circle cx="667.5" cy="372.5" r="1.1" fill="#000" fill-opacity="0.55"/>
<path d="M639.8 383.5h7.4M643.5 379.8v7.4" stroke="#000" stroke-opacity="0.72" stroke-width="1.0"/>
<path d="M640.7 380.7l5.6 5.6M640.7 386.3l5.6 -5.6" stroke="#000" stroke-opacity="0.66" stroke-width="1.0"/>
<circle cx="643.5" cy="383.5" r="1.1" fill="#000" fill-opacity="0.55"/>
<path d="M661.8 385.5h7.4M665.5 381.8v7.4" stroke="#000" stroke-opacity="0.72" stroke-width="1.0"/>
<path d="M662.7 382.7l5.6 5.6M662.7 388.3l5.6 -5.6" stroke="#000" stroke-opacity="0.66" stroke-width="1.0"/>
<circle cx="665.5" cy="385.5" r="1.1" fill="#000" fill-opacity="0.55"/>
<path d="M629.8 391.5h7.4M633.5 387.8v7.4" stroke="#000" stroke-opacity="0.72" stroke-width="1.0"/>
<path d="M630.7 388.7l5.6 5.6M630.7 394.3l5.6 -5.6" stroke="#000" stroke-opacity="0.66" stroke-width="1.0"/>
<circle cx="633.5" cy="391.5" r="1.1" fill="#000" fill-opacity="0.55"/>
<path d="M644.8 391.5h7.4M648.5 387.8v7.4" stroke="#000" stroke-opacity="0.72" stroke-width="1.0"/>
<path d="M645.7 388.7l5.6 5.6M645.7 394.3l5.6 -5.6" stroke="#000" stroke-opacity="0.66" stroke-width="1.0"/>
<circle cx="648.5" cy="391.5" r="1.1" fill="#000" fill-opacity="0.55"/>
<path d="M629.8 404.5h7.4M633.5 400.8v7.4" stroke="#000" stroke-opacity="0.72" stroke-width="1.0"/>
<path d="M630.7 401.7l5.6 5.6M630.7 407.3l5.6 -5.6" stroke="#000" stroke-opacity="0.66" stroke-width="1.0"/>
<circle cx="633.5" cy="404.5" r="1.1" fill="#000" fill-opacity="0.55"/>
<path d="M639.8 404.5h7.4M643.5 400.8v7.4" stroke="#000" stroke-opacity="0.72" stroke-width="1.0"/>
<path d="M640.7 401.7l5.6 5.6M640.7 407.3l5.6 -5.6" stroke="#000" stroke-opacity="0.66" stroke-width="1.0"/>
<circle cx="643.5" cy="404.5" r="1.1" fill="#000" fill-opacity="0.55"/>
<path d="M650.8 410.5h7.4M654.5 406.8v7.4" stroke="#000" stroke-opacity="0.72" stroke-width="1.0"/>
<path d="M651.7 407.7l5.6 5.6M651.7 413.3l5.6 -5.6" stroke="#000" stroke-opacity="0.66" stroke-width="1.0"/>
<circle cx="654.5" cy="410.5" r="1.1" fill="#000" fill-opacity="0.55"/>
<path d="M659.8 409.5h7.4M663.5 405.8v7.4" stroke="#000" stroke-opacity="0.72" stroke-width="1.0"/>
<path d="M660.7 406.7l5.6 5.6M660.7 412.3l5.6 -5.6" stroke="#000" stroke-opacity="0.66" stroke-width="1.0"/>
<circle cx="663.5" cy="409.5" r="1.1" fill="#000" fill-opacity="0.55"/>
<path d="M660.8 415.5h7.4M664.5 411.8v7.4" stroke="#000" stroke-opacity="0.72" stroke-width="1.0"/>
<path d="M661.7 412.7l5.6 5.6M661.7 418.3l5.6 -5.6" stroke="#000" stroke-opacity="0.66" stroke-width="1.0"/>
<circle cx="664.5" cy="415.5" r="1.1" fill="#000" fill-opacity="0.55"/>
<path d="M659.8 422.5h7.4M663.5 418.8v7.4" stroke="#000" stroke-opacity="0.72" stroke-width="1.0"/>
<path d="M660.7 419.7l5.6 5.6M660.7 425.3l5.6 -5.6" stroke="#000" stroke-opacity="0.66" stroke-width="1.0"/>
<circle cx="663.5" cy="422.5" r="1.1" fill="#000" fill-opacity="0.55"/>
<path d="M673.8 415.5h7.4M677.5 411.8v7.4" stroke="#000" stroke-opacity="0.72" stroke-width="1.0"/>
<path d="M674.7 412.7l5.6 5.6M674.7 418.3l5.6 -5.6" stroke="#000" stroke-opacity="0.66" stroke-width="1.0"/>
<circle cx="677.5" cy="415.5" r="1.1" fill="#000" fill-opacity="0.55"/>
<path d="M681.8 407.5h7.4M685.5 403.8v7.4" stroke="#000" stroke-opacity="0.72" stroke-width="1.0"/>
<path d="M682.7 404.7l5.6 5.6M682.7 410.3l5.6 -5.6" stroke="#000" stroke-opacity="0.66" stroke-width="1.0"/>
<circle cx="685.5" cy="407.5" r="1.1" fill="#000" fill-opacity="0.55"/>
<path d="M680.8 419.5h7.4M684.5 415.8v7.4" stroke="#000" stroke-opacity="0.72" stroke-width="1.0"/>
<path d="M681.7 416.7l5.6 5.6M681.7 422.3l5.6 -5.6" stroke="#000" stroke-opacity="0.66" stroke-width="1.0"/>
<circle cx="684.5" cy="419.5" r="1.1" fill="#000" fill-opacity="0.55"/>
<path d="M593.8 414.5h7.4M597.5 410.8v7.4" stroke="#000" stroke-opacity="0.72" stroke-width="1.0"/>
<path d="M594.7 411.7l5.6 5.6M594.7 417.3l5.6 -5.6" stroke="#000" stroke-opacity="0.66" stroke-width="1.0"/>
<circle cx="597.5" cy="414.5" r="1.1" fill="#000" fill-opacity="0.55"/>
<path d="M597.8 414.5h7.4M601.5 410.8v7.4" stroke="#000" stroke-opacity="0.72" stroke-width="1.0"/>
<path d="M598.7 411.7l5.6 5.6M598.7 417.3l5.6 -5.6" stroke="#000" stroke-opacity="0.66" stroke-width="1.0"/>
<circle cx="601.5" cy="414.5" r="1.1" fill="#000" fill-opacity="0.55"/>
<path d="M625.8 430.5h7.4M629.5 426.8v7.4" stroke="#000" stroke-opacity="0.72" stroke-width="1.0"/>
<path d="M626.7 427.7l5.6 5.6M626.7 433.3l5.6 -5.6" stroke="#000" stroke-opacity="0.66" stroke-width="1.0"/>
<circle cx="629.5" cy="430.5" r="1.1" fill="#000" fill-opacity="0.55"/>
<path d="M631.8 432.5h7.4M635.5 428.8v7.4" stroke="#000" stroke-opacity="0.72" stroke-width="1.0"/>
<path d="M632.7 429.7l5.6 5.6M632.7 435.3l5.6 -5.6" stroke="#000" stroke-opacity="0.66" stroke-width="1.0"/>
<circle cx="635.5" cy="432.5" r="1.1" fill="#000" fill-opacity="0.55"/>
<path d="M650.8 432.5h7.4M654.5 428.8v7.4" stroke="#000" stroke-opacity="0.72" stroke-width="1.0"/>
<path d="M651.7 429.7l5.6 5.6M651.7 435.3l5.6 -5.6" stroke="#000" stroke-opacity="0.66" stroke-width="1.0"/>
<circle cx="654.5" cy="432.5" r="1.1" fill="#000" fill-opacity="0.55"/>
<path d="M618.8 438.5h7.4M622.5 434.8v7.4" stroke="#000" stroke-opacity="0.72" stroke-width="1.0"/>
<path d="M619.7 435.7l5.6 5.6M619.7 441.3l5.6 -5.6" stroke="#000" stroke-opacity="0.66" stroke-width="1.0"/>
<circle cx="622.5" cy="438.5" r="1.1" fill="#000" fill-opacity="0.55"/>
<path d="M603.8 440.5h7.4M607.5 436.8v7.4" stroke="#000" stroke-opacity="0.72" stroke-width="1.0"/>
<path d="M604.7 437.7l5.6 5.6M604.7 443.3l5.6 -5.6" stroke="#000" stroke-opacity="0.66" stroke-width="1.0"/>
<circle cx="607.5" cy="440.5" r="1.1" fill="#000" fill-opacity="0.55"/>
<path d="M607.8 441.5h7.4M611.5 437.8v7.4" stroke="#000" stroke-opacity="0.72" stroke-width="1.0"/>
<path d="M608.7 438.7l5.6 5.6M608.7 444.3l5.6 -5.6" stroke="#000" stroke-opacity="0.66" stroke-width="1.0"/>
<circle cx="611.5" cy="441.5" r="1.1" fill="#000" fill-opacity="0.55"/>
<path d="M650.8 441.5h7.4M654.5 437.8v7.4" stroke="#000" stroke-opacity="0.72" stroke-width="1.0"/>
<path d="M651.7 438.7l5.6 5.6M651.7 444.3l5.6 -5.6" stroke="#000" stroke-opacity="0.66" stroke-width="1.0"/>
<circle cx="654.5" cy="441.5" r="1.1" fill="#000" fill-opacity="0.55"/>
<path d="M670.8 441.5h7.4M674.5 437.8v7.4" stroke="#000" stroke-opacity="0.72" stroke-width="1.0"/>
<path d="M671.7 438.7l5.6 5.6M671.7 444.3l5.6 -5.6" stroke="#000" stroke-opacity="0.66" stroke-width="1.0"/>
<circle cx="674.5" cy="441.5" r="1.1" fill="#000" fill-opacity="0.55"/>
<path d="M647.8 446.5h7.4M651.5 442.8v7.4" stroke="#000" stroke-opacity="0.72" stroke-width="1.0"/>
<path d="M648.7 443.7l5.6 5.6M648.7 449.3l5.6 -5.6" stroke="#000" stroke-opacity="0.66" stroke-width="1.0"/>
<circle cx="651.5" cy="446.5" r="1.1" fill="#000" fill-opacity="0.55"/>
<path d="M670.8 447.5h7.4M674.5 443.8v7.4" stroke="#000" stroke-opacity="0.72" stroke-width="1.0"/>
<path d="M671.7 444.7l5.6 5.6M671.7 450.3l5.6 -5.6" stroke="#000" stroke-opacity="0.66" stroke-width="1.0"/>
<circle cx="674.5" cy="447.5" r="1.1" fill="#000" fill-opacity="0.55"/>
<path d="M639.8 449.5h7.4M643.5 445.8v7.4" stroke="#000" stroke-opacity="0.72" stroke-width="1.0"/>
<path d="M640.7 446.7l5.6 5.6M640.7 452.3l5.6 -5.6" stroke="#000" stroke-opacity="0.66" stroke-width="1.0"/>
<circle cx="643.5" cy="449.5" r="1.1" fill="#000" fill-opacity="0.55"/>
<path d="M618.8 454.5h7.4M622.5 450.8v7.4" stroke="#000" stroke-opacity="0.72" stroke-width="1.0"/>
<path d="M619.7 451.7l5.6 5.6M619.7 457.3l5.6 -5.6" stroke="#000" stroke-opacity="0.66" stroke-width="1.0"/>
<circle cx="622.5" cy="454.5" r="1.1" fill="#000" fill-opacity="0.55"/>
<path d="M639.8 455.5h7.4M643.5 451.8v7.4" stroke="#000" stroke-opacity="0.72" stroke-width="1.0"/>
<path d="M640.7 452.7l5.6 5.6M640.7 458.3l5.6 -5.6" stroke="#000" stroke-opacity="0.66" stroke-width="1.0"/>
<circle cx="643.5" cy="455.5" r="1.1" fill="#000" fill-opacity="0.55"/>
<path d="M677.8 457.5h7.4M681.5 453.8v7.4" stroke="#000" stroke-opacity="0.72" stroke-width="1.0"/>
<path d="M678.7 454.7l5.6 5.6M678.7 460.3l5.6 -5.6" stroke="#000" stroke-opacity="0.66" stroke-width="1.0"/>
<circle cx="681.5" cy="457.5" r="1.1" fill="#000" fill-opacity="0.55"/>
<path d="M681.8 457.5h7.4M685.5 453.8v7.4" stroke="#000" stroke-opacity="0.72" stroke-width="1.0"/>
<path d="M682.7 454.7l5.6 5.6M682.7 460.3l5.6 -5.6" stroke="#000" stroke-opacity="0.66" stroke-width="1.0"/>
<circle cx="685.5" cy="457.5" r="1.1" fill="#000" fill-opacity="0.55"/>
<path d="M600.8 459.5h7.4M604.5 455.8v7.4" stroke="#000" stroke-opacity="0.72" stroke-width="1.0"/>
<path d="M601.7 456.7l5.6 5.6M601.7 462.3l5.6 -5.6" stroke="#000" stroke-opacity="0.66" stroke-width="1.0"/>
<circle cx="604.5" cy="459.5" r="1.1" fill="#000" fill-opacity="0.55"/>
<path d="M646.8 462.5h7.4M650.5 458.8v7.4" stroke="#000" stroke-opacity="0.72" stroke-width="1.0"/>
<path d="M647.7 459.7l5.6 5.6M647.7 465.3l5.6 -5.6" stroke="#000" stroke-opacity="0.66" stroke-width="1.0"/>
<circle cx="650.5" cy="462.5" r="1.1" fill="#000" fill-opacity="0.55"/>
<path d="M617.8 467.5h7.4M621.5 463.8v7.4" stroke="#000" stroke-opacity="0.72" stroke-width="1.0"/>
<path d="M618.7 464.7l5.6 5.6M618.7 470.3l5.6 -5.6" stroke="#000" stroke-opacity="0.66" stroke-width="1.0"/>
<circle cx="621.5" cy="467.5" r="1.1" fill="#000" fill-opacity="0.55"/>
<path d="M618.8 472.5h7.4M622.5 468.8v7.4" stroke="#000" stroke-opacity="0.72" stroke-width="1.0"/>
<path d="M619.7 469.7l5.6 5.6M619.7 475.3l5.6 -5.6" stroke="#000" stroke-opacity="0.66" stroke-width="1.0"/>
<circle cx="622.5" cy="472.5" r="1.1" fill="#000" fill-opacity="0.55"/>
<path d="M639.8 470.5h7.4M643.5 466.8v7.4" stroke="#000" stroke-opacity="0.72" stroke-width="1.0"/>
<path d="M640.7 467.7l5.6 5.6M640.7 473.3l5.6 -5.6" stroke="#000" stroke-opacity="0.66" stroke-width="1.0"/>
<circle cx="643.5" cy="470.5" r="1.1" fill="#000" fill-opacity="0.55"/>
<path d="M655.8 468.5h7.4M659.5 464.8v7.4" stroke="#000" stroke-opacity="0.72" stroke-width="1.0"/>
<path d="M656.7 465.7l5.6 5.6M656.7 471.3l5.6 -5.6" stroke="#000" stroke-opacity="0.66" stroke-width="1.0"/>
<circle cx="659.5" cy="468.5" r="1.1" fill="#000" fill-opacity="0.55"/>
<path d="M609.8 482.5h7.4M613.5 478.8v7.4" stroke="#000" stroke-opacity="0.72" stroke-width="1.0"/>
<path d="M610.7 479.7l5.6 5.6M610.7 485.3l5.6 -5.6" stroke="#000" stroke-opacity="0.66" stroke-width="1.0"/>
<circle cx="613.5" cy="482.5" r="1.1" fill="#000" fill-opacity="0.55"/>
<path d="M626.8 482.5h7.4M630.5 478.8v7.4" stroke="#000" stroke-opacity="0.72" stroke-width="1.0"/>
<path d="M627.7 479.7l5.6 5.6M627.7 485.3l5.6 -5.6" stroke="#000" stroke-opacity="0.66" stroke-width="1.0"/>
<circle cx="630.5" cy="482.5" r="1.1" fill="#000" fill-opacity="0.55"/>
<path d="M670.8 483.5h7.4M674.5 479.8v7.4" stroke="#000" stroke-opacity="0.72" stroke-width="1.0"/>
<path d="M671.7 480.7l5.6 5.6M671.7 486.3l5.6 -5.6" stroke="#000" stroke-opacity="0.66" stroke-width="1.0"/>
<circle cx="674.5" cy="483.5" r="1.1" fill="#000" fill-opacity="0.55"/>
<path d="M607.8 490.5h7.4M611.5 486.8v7.4" stroke="#000" stroke-opacity="0.72" stroke-width="1.0"/>
<path d="M608.7 487.7l5.6 5.6M608.7 493.3l5.6 -5.6" stroke="#000" stroke-opacity="0.66" stroke-width="1.0"/>
<circle cx="611.5" cy="490.5" r="1.1" fill="#000" fill-opacity="0.55"/>
<path d="M675.8 493.5h7.4M679.5 489.8v7.4" stroke="#000" stroke-opacity="0.72" stroke-width="1.0"/>
<path d="M676.7 490.7l5.6 5.6M676.7 496.3l5.6 -5.6" stroke="#000" stroke-opacity="0.66" stroke-width="1.0"/>
<circle cx="679.5" cy="493.5" r="1.1" fill="#000" fill-opacity="0.55"/>
<path d="M607.8 504.5h7.4M611.5 500.8v7.4" stroke="#000" stroke-opacity="0.72" stroke-width="1.0"/>
<path d="M608.7 501.7l5.6 5.6M608.7 507.3l5.6 -5.6" stroke="#000" stroke-opacity="0.66" stroke-width="1.0"/>
<circle cx="611.5" cy="504.5" r="1.1" fill="#000" fill-opacity="0.55"/>
<path d="M618.8 509.5h7.4M622.5 505.8v7.4" stroke="#000" stroke-opacity="0.72" stroke-width="1.0"/>
<path d="M619.7 506.7l5.6 5.6M619.7 512.3l5.6 -5.6" stroke="#000" stroke-opacity="0.66" stroke-width="1.0"/>
<circle cx="622.5" cy="509.5" r="1.1" fill="#000" fill-opacity="0.55"/>
<path d="M670.8 511.5h7.4M674.5 507.8v7.4" stroke="#000" stroke-opacity="0.72" stroke-width="1.0"/>
<path d="M671.7 508.7l5.6 5.6M671.7 514.3l5.6 -5.6" stroke="#000" stroke-opacity="0.66" stroke-width="1.0"/>
<circle cx="674.5" cy="511.5" r="1.1" fill="#000" fill-opacity="0.55"/>
<path d="M633.8 531.5h7.4M637.5 527.8v7.4" stroke="#000" stroke-opacity="0.72" stroke-width="1.0"/>
<path d="M634.7 528.7l5.6 5.6M634.7 534.3l5.6 -5.6" stroke="#000" stroke-opacity="0.66" stroke-width="1.0"/>
<circle cx="637.5" cy="531.5" r="1.1" fill="#000" fill-opacity="0.55"/>
<rect x="538.4" y="340.5" width="65.9" height="36.8" fill="#fff" stroke="#7a7a7a" stroke-width="1.2"/>
<path d="M540.3 349.9H561.5" stroke="#0a72bd" stroke-width="2"/>
<text x="562.5" y="355.4" font-size="14" text-anchor="start" fill="#000" >Model</text>
<path d="M546.8 368.5h7.4M550.5 364.8v7.4" stroke="#000" stroke-opacity="0.72" stroke-width="1.0"/>
<path d="M547.7 365.7l5.6 5.6M547.7 371.3l5.6 -5.6" stroke="#000" stroke-opacity="0.66" stroke-width="1.0"/>
<circle cx="550.5" cy="368.5" r="1.1" fill="#000" fill-opacity="0.55"/>
<text x="562.5" y="373.7" font-size="14" text-anchor="start" fill="#000" >Data</text>
</svg></body></html>
